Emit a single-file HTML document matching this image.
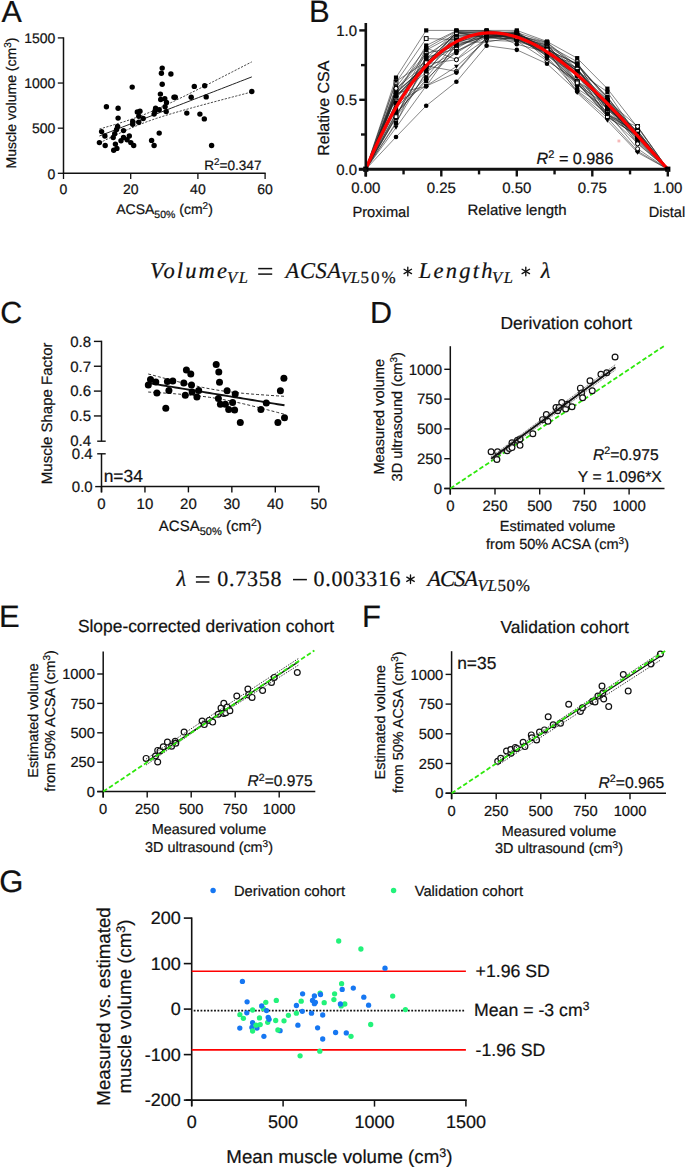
<!DOCTYPE html>
<html><head><meta charset="utf-8"><title>Figure</title>
<style>
html,body{margin:0;padding:0;background:#fff;width:685px;height:1168px;overflow:hidden}
svg{display:block}
text{text-rendering:geometricPrecision;stroke:#161616;stroke-width:0.22px;paint-order:stroke}
</style></head><body>
<svg width="685" height="1168" viewBox="0 0 685 1168">
<rect width="685" height="1168" fill="#fff"/>
<text x="1.4" y="21.9" text-anchor="start" style="font-family:'Liberation Sans', sans-serif;font-size:30.5px;" fill="#111" >A</text>
<line x1="63.5" y1="37.31" x2="63.5" y2="173.9" stroke="#111" stroke-width="1.5" />
<line x1="62.9" y1="173.3" x2="265.7" y2="173.3" stroke="#111" stroke-width="1.5" />
<line x1="57.8" y1="173.3" x2="63.5" y2="173.3" stroke="#111" stroke-width="1.3" />
<text x="55.3" y="178.5" text-anchor="end" style="font-family:'Liberation Sans', sans-serif;font-size:14px;" fill="#111" >0</text>
<line x1="57.8" y1="128.17" x2="63.5" y2="128.17" stroke="#111" stroke-width="1.3" />
<text x="55.3" y="133.37" text-anchor="end" style="font-family:'Liberation Sans', sans-serif;font-size:14px;" fill="#111" >500</text>
<line x1="57.8" y1="83.04" x2="63.5" y2="83.04" stroke="#111" stroke-width="1.3" />
<text x="55.3" y="88.24" text-anchor="end" style="font-family:'Liberation Sans', sans-serif;font-size:14px;" fill="#111" >1000</text>
<line x1="57.8" y1="37.91" x2="63.5" y2="37.91" stroke="#111" stroke-width="1.3" />
<text x="55.3" y="43.11" text-anchor="end" style="font-family:'Liberation Sans', sans-serif;font-size:14px;" fill="#111" >1500</text>
<line x1="63.5" y1="173.3" x2="63.5" y2="179" stroke="#111" stroke-width="1.3" />
<text x="63.5" y="194.3" text-anchor="middle" style="font-family:'Liberation Sans', sans-serif;font-size:14px;" fill="#111" >0</text>
<line x1="130.7" y1="173.3" x2="130.7" y2="179" stroke="#111" stroke-width="1.3" />
<text x="130.7" y="194.3" text-anchor="middle" style="font-family:'Liberation Sans', sans-serif;font-size:14px;" fill="#111" >20</text>
<line x1="197.9" y1="173.3" x2="197.9" y2="179" stroke="#111" stroke-width="1.3" />
<text x="197.9" y="194.3" text-anchor="middle" style="font-family:'Liberation Sans', sans-serif;font-size:14px;" fill="#111" >40</text>
<line x1="265.1" y1="173.3" x2="265.1" y2="179" stroke="#111" stroke-width="1.3" />
<text x="265.1" y="194.3" text-anchor="middle" style="font-family:'Liberation Sans', sans-serif;font-size:14px;" fill="#111" >60</text>
<text x="164.5" y="213.6" text-anchor="middle" style="font-family:'Liberation Sans', sans-serif;font-size:14px;" fill="#111" >ACSA<tspan baseline-shift="-3.5" font-size="10.5px">50%</tspan> (cm<tspan baseline-shift="5" font-size="10px">2</tspan>)</text>
<text transform="translate(16.4,103) rotate(-90)" text-anchor="middle" style="font-family:'Liberation Sans', sans-serif;font-size:14px;" fill="#111" >Muscle volume (cm<tspan baseline-shift="5" font-size="10px">3</tspan>)</text>
<text x="261.5" y="169.6" text-anchor="end" style="font-family:'Liberation Sans', sans-serif;font-size:13.6px;" fill="#111" >R<tspan baseline-shift="5.2" font-size="9.8px">2</tspan>=0.347</text>
<polyline points="99.4,136 103.21,134.52 107.02,133.04 110.83,131.57 114.64,130.09 118.45,128.61 122.26,127.14 126.07,125.66 129.88,124.18 133.69,122.7 137.5,121.23 141.31,119.75 145.12,118.27 148.93,116.79 152.74,115.31 156.55,113.84 160.36,112.36 164.17,110.88 167.98,109.41 171.79,107.93 175.6,106.45 179.41,104.97 183.22,103.5 187.03,102.02 190.84,100.54 194.65,99.06 198.46,97.59 202.27,96.11 206.08,94.63 209.89,93.15 213.7,91.68 217.51,90.2 221.32,88.72 225.13,87.24 228.94,85.77 232.75,84.29 236.56,82.81 240.37,81.33 244.18,79.86 247.99,78.38 251.8,76.9" fill="none" stroke="#222" stroke-width="1.0" />
<polyline points="99.4,129 103.21,127.92 107.02,126.83 110.83,125.72 114.64,124.59 118.45,123.44 122.26,122.25 126.07,121.03 129.88,119.76 133.69,118.44 137.5,117.07 141.31,115.64 145.12,114.15 148.93,112.6 152.74,110.98 156.55,109.32 160.36,107.61 164.17,105.86 167.98,104.08 171.79,102.27 175.6,100.43 179.41,98.58 183.22,96.71 187.03,94.82 190.84,92.92 194.65,91.02 198.46,89.1 202.27,87.18 206.08,85.25 209.89,83.32 213.7,81.38 217.51,79.44 221.32,77.5 225.13,75.55 228.94,73.6 232.75,71.65 236.56,69.69 240.37,67.74 244.18,65.78 247.99,63.82 251.8,61.86" fill="none" stroke="#333" stroke-width="0.9" stroke-dasharray="2.2,1.4"/>
<polyline points="99.4,143 103.21,141.12 107.02,139.26 110.83,137.41 114.64,135.59 118.45,133.79 122.26,132.02 126.07,130.29 129.88,128.6 133.69,126.96 137.5,125.38 141.31,123.85 145.12,122.39 148.93,120.99 152.74,119.65 156.55,118.35 160.36,117.11 164.17,115.9 167.98,114.73 171.79,113.59 175.6,112.47 179.41,111.37 183.22,110.28 187.03,109.21 190.84,108.16 194.65,107.11 198.46,106.07 202.27,105.03 206.08,104.01 209.89,102.98 213.7,101.97 217.51,100.95 221.32,99.94 225.13,98.93 228.94,97.93 232.75,96.93 236.56,95.93 240.37,94.93 244.18,93.93 247.99,92.94 251.8,91.94" fill="none" stroke="#333" stroke-width="0.9" stroke-dasharray="2.2,1.4"/>
<circle cx="162.2" cy="68.1" r="2.7" fill="#000" stroke="none" stroke-width="0"/>
<circle cx="161.4" cy="73.2" r="2.7" fill="#000" stroke="none" stroke-width="0"/>
<circle cx="170.9" cy="74" r="2.7" fill="#000" stroke="none" stroke-width="0"/>
<circle cx="162.2" cy="84.2" r="2.7" fill="#000" stroke="none" stroke-width="0"/>
<circle cx="132.2" cy="87.1" r="2.7" fill="#000" stroke="none" stroke-width="0"/>
<circle cx="194.3" cy="86.4" r="2.7" fill="#000" stroke="none" stroke-width="0"/>
<circle cx="204.7" cy="85.7" r="2.7" fill="#000" stroke="none" stroke-width="0"/>
<circle cx="160.4" cy="94.1" r="2.7" fill="#000" stroke="none" stroke-width="0"/>
<circle cx="174" cy="97.3" r="2.7" fill="#000" stroke="none" stroke-width="0"/>
<circle cx="175.3" cy="97.3" r="2.7" fill="#000" stroke="none" stroke-width="0"/>
<circle cx="191.2" cy="97.3" r="2.7" fill="#000" stroke="none" stroke-width="0"/>
<circle cx="206.2" cy="96.9" r="2.7" fill="#000" stroke="none" stroke-width="0"/>
<circle cx="251.8" cy="91.5" r="2.7" fill="#000" stroke="none" stroke-width="0"/>
<circle cx="160.7" cy="99.5" r="2.7" fill="#000" stroke="none" stroke-width="0"/>
<circle cx="164.8" cy="98.8" r="2.7" fill="#000" stroke="none" stroke-width="0"/>
<circle cx="166.5" cy="102.4" r="2.7" fill="#000" stroke="none" stroke-width="0"/>
<circle cx="165.1" cy="106.8" r="2.7" fill="#000" stroke="none" stroke-width="0"/>
<circle cx="106.4" cy="106.8" r="2.7" fill="#000" stroke="none" stroke-width="0"/>
<circle cx="118.1" cy="108.3" r="2.7" fill="#000" stroke="none" stroke-width="0"/>
<circle cx="155.6" cy="108.3" r="2.7" fill="#000" stroke="none" stroke-width="0"/>
<circle cx="159.2" cy="109.7" r="2.7" fill="#000" stroke="none" stroke-width="0"/>
<circle cx="137.3" cy="111.9" r="2.7" fill="#000" stroke="none" stroke-width="0"/>
<circle cx="140" cy="111.2" r="2.7" fill="#000" stroke="none" stroke-width="0"/>
<circle cx="154.9" cy="111.2" r="2.7" fill="#000" stroke="none" stroke-width="0"/>
<circle cx="166.2" cy="111.6" r="2.7" fill="#000" stroke="none" stroke-width="0"/>
<circle cx="186.8" cy="113.1" r="2.7" fill="#000" stroke="none" stroke-width="0"/>
<circle cx="154.1" cy="114.1" r="2.7" fill="#000" stroke="none" stroke-width="0"/>
<circle cx="199.9" cy="114.1" r="2.7" fill="#000" stroke="none" stroke-width="0"/>
<circle cx="204.3" cy="118.9" r="2.7" fill="#000" stroke="none" stroke-width="0"/>
<circle cx="118.1" cy="118.1" r="2.7" fill="#000" stroke="none" stroke-width="0"/>
<circle cx="138.8" cy="116.3" r="2.7" fill="#000" stroke="none" stroke-width="0"/>
<circle cx="143.2" cy="118.5" r="2.7" fill="#000" stroke="none" stroke-width="0"/>
<circle cx="132.7" cy="121.4" r="2.7" fill="#000" stroke="none" stroke-width="0"/>
<circle cx="132.7" cy="124.3" r="2.7" fill="#000" stroke="none" stroke-width="0"/>
<circle cx="138.8" cy="122.2" r="2.7" fill="#000" stroke="none" stroke-width="0"/>
<circle cx="117.6" cy="126.5" r="2.7" fill="#000" stroke="none" stroke-width="0"/>
<circle cx="101.6" cy="131.6" r="2.7" fill="#000" stroke="none" stroke-width="0"/>
<circle cx="116.6" cy="129.5" r="2.7" fill="#000" stroke="none" stroke-width="0"/>
<circle cx="123.5" cy="130.6" r="2.7" fill="#000" stroke="none" stroke-width="0"/>
<circle cx="159.2" cy="133.1" r="2.7" fill="#000" stroke="none" stroke-width="0"/>
<circle cx="104.9" cy="136" r="2.7" fill="#000" stroke="none" stroke-width="0"/>
<circle cx="114.7" cy="133.8" r="2.7" fill="#000" stroke="none" stroke-width="0"/>
<circle cx="113.2" cy="137.5" r="2.7" fill="#000" stroke="none" stroke-width="0"/>
<circle cx="129.3" cy="136" r="2.7" fill="#000" stroke="none" stroke-width="0"/>
<circle cx="123.5" cy="137.5" r="2.7" fill="#000" stroke="none" stroke-width="0"/>
<circle cx="121" cy="140.8" r="2.7" fill="#000" stroke="none" stroke-width="0"/>
<circle cx="127.1" cy="139.7" r="2.7" fill="#000" stroke="none" stroke-width="0"/>
<circle cx="151.6" cy="140.4" r="2.7" fill="#000" stroke="none" stroke-width="0"/>
<circle cx="99.4" cy="142.6" r="2.7" fill="#000" stroke="none" stroke-width="0"/>
<circle cx="105.2" cy="145.5" r="2.7" fill="#000" stroke="none" stroke-width="0"/>
<circle cx="115.4" cy="144.1" r="2.7" fill="#000" stroke="none" stroke-width="0"/>
<circle cx="130.8" cy="142.6" r="2.7" fill="#000" stroke="none" stroke-width="0"/>
<circle cx="133.7" cy="145.5" r="2.7" fill="#000" stroke="none" stroke-width="0"/>
<circle cx="154.1" cy="145.5" r="2.7" fill="#000" stroke="none" stroke-width="0"/>
<circle cx="116.9" cy="148.4" r="2.7" fill="#000" stroke="none" stroke-width="0"/>
<circle cx="113.7" cy="150.2" r="2.7" fill="#000" stroke="none" stroke-width="0"/>
<circle cx="211.6" cy="145.5" r="2.7" fill="#000" stroke="none" stroke-width="0"/>
<text x="309.1" y="22.2" text-anchor="start" style="font-family:'Liberation Sans', sans-serif;font-size:31px;" fill="#111" >B</text>
<polyline points="365.8,169.2 396,137 426.2,105.77 456.4,81.76 486.6,45.67 516.8,49.83 547,63.71 577.2,91.47 607.4,117.84 637.6,151.16 667.8,169.2" fill="none" stroke="#222" stroke-width="0.55" />
<polyline points="365.8,169.2 396,77.59 426.2,30.4 456.4,30.4 486.6,30.4 516.8,30.4 547,41.5 577.2,58.16 607.4,88.7 637.6,127.56 667.8,169.2" fill="none" stroke="#222" stroke-width="0.55" />
<polyline points="365.8,169.2 396,127.56 426.2,85.92 456.4,66.49 486.6,40.12 516.8,41.5 547,49.83 577.2,92.86 607.4,120.62 637.6,152.54 667.8,169.2" fill="none" stroke="#222" stroke-width="0.55" />
<polyline points="365.8,169.2 396,96.27 426.2,64.27 456.4,46.04 486.6,35.46 516.8,38.22 547,46.6 577.2,81.62 607.4,104.2 637.6,134.17 667.8,169.2" fill="none" stroke="#222" stroke-width="0.55" />
<polyline points="365.8,169.2 396,115.26 426.2,65.77 456.4,71.4 486.6,37.14 516.8,40.94 547,60.64 577.2,80.88 607.4,112.79 637.6,148.73 667.8,169.2" fill="none" stroke="#222" stroke-width="0.55" />
<polyline points="365.8,169.2 396,87.24 426.2,48.21 456.4,31.19 486.6,34.07 516.8,31.47 547,51.04 577.2,73.53 607.4,108.19 637.6,136.93 667.8,169.2" fill="none" stroke="#222" stroke-width="0.55" />
<polyline points="365.8,169.2 396,93.19 426.2,86.37 456.4,43.11 486.6,31.99 516.8,44.28 547,51.94 577.2,83.68 607.4,114.08 637.6,133.31 667.8,169.2" fill="none" stroke="#222" stroke-width="0.55" />
<polyline points="365.8,169.2 396,90.17 426.2,53.14 456.4,46.71 486.6,35.37 516.8,34.98 547,43.7 577.2,81.31 607.4,100.68 637.6,126.45 667.8,169.2" fill="none" stroke="#222" stroke-width="0.55" />
<polyline points="365.8,169.2 396,96.97 426.2,72.16 456.4,52.89 486.6,34.76 516.8,37.78 547,55.9 577.2,75.31 607.4,115.32 637.6,143.05 667.8,169.2" fill="none" stroke="#222" stroke-width="0.55" />
<polyline points="365.8,169.2 396,92.11 426.2,65.69 456.4,36.89 486.6,33.76 516.8,33.43 547,48.23 577.2,71.17 607.4,91.92 637.6,136.33 667.8,169.2" fill="none" stroke="#222" stroke-width="0.55" />
<polyline points="365.8,169.2 396,103.89 426.2,62.68 456.4,32.68 486.6,36.72 516.8,36.2 547,45.7 577.2,65.02 607.4,97.49 637.6,132.63 667.8,169.2" fill="none" stroke="#222" stroke-width="0.55" />
<polyline points="365.8,169.2 396,92.96 426.2,65.45 456.4,32.62 486.6,32.3 516.8,34.47 547,50.01 577.2,71.87 607.4,117.39 637.6,135.37 667.8,169.2" fill="none" stroke="#222" stroke-width="0.55" />
<polyline points="365.8,169.2 396,105.16 426.2,57.33 456.4,48.67 486.6,30.79 516.8,34.24 547,45 577.2,61.73 607.4,115.39 637.6,126.51 667.8,169.2" fill="none" stroke="#222" stroke-width="0.55" />
<polyline points="365.8,169.2 396,108.11 426.2,77.43 456.4,41.64 486.6,36.52 516.8,39.78 547,53.48 577.2,83.1 607.4,112.73 637.6,134.44 667.8,169.2" fill="none" stroke="#222" stroke-width="0.55" />
<polyline points="365.8,169.2 396,95.47 426.2,68.47 456.4,35.19 486.6,34.18 516.8,38.18 547,44.89 577.2,75.75 607.4,105.75 637.6,138.39 667.8,169.2" fill="none" stroke="#222" stroke-width="0.55" />
<polyline points="365.8,169.2 396,82.37 426.2,38.54 456.4,39.62 486.6,32.47 516.8,35.37 547,42.45 577.2,68.99 607.4,110.06 637.6,131.03 667.8,169.2" fill="none" stroke="#222" stroke-width="0.55" />
<polyline points="365.8,169.2 396,103.33 426.2,67.13 456.4,32.14 486.6,36.93 516.8,33.96 547,47.31 577.2,68.92 607.4,109.08 637.6,141.71 667.8,169.2" fill="none" stroke="#222" stroke-width="0.55" />
<polyline points="365.8,169.2 396,91.38 426.2,55.2 456.4,35.41 486.6,36.55 516.8,34.37 547,55.71 577.2,63.56 607.4,98.23 637.6,134.47 667.8,169.2" fill="none" stroke="#222" stroke-width="0.55" />
<polyline points="365.8,169.2 396,93.24 426.2,65.18 456.4,41.73 486.6,34.37 516.8,33.07 547,59.67 577.2,82.95 607.4,116.31 637.6,130.75 667.8,169.2" fill="none" stroke="#222" stroke-width="0.55" />
<polyline points="365.8,169.2 396,113.54 426.2,79.36 456.4,51.14 486.6,37.28 516.8,38.98 547,48.36 577.2,82.47 607.4,108.13 637.6,136.07 667.8,169.2" fill="none" stroke="#222" stroke-width="0.55" />
<polyline points="365.8,169.2 396,117.27 426.2,73.68 456.4,32.82 486.6,37.75 516.8,38.76 547,47.87 577.2,71.06 607.4,106.01 637.6,132.77 667.8,169.2" fill="none" stroke="#222" stroke-width="0.55" />
<polyline points="365.8,169.2 396,113.05 426.2,81.07 456.4,45.63 486.6,33.6 516.8,38.72 547,54.22 577.2,85 607.4,104.92 637.6,140.63 667.8,169.2" fill="none" stroke="#222" stroke-width="0.55" />
<polyline points="365.8,169.2 396,123.81 426.2,59.08 456.4,44.08 486.6,37.18 516.8,32.48 547,51.32 577.2,88.66 607.4,108.26 637.6,132.89 667.8,169.2" fill="none" stroke="#222" stroke-width="0.55" />
<polyline points="365.8,169.2 396,97.94 426.2,62.2 456.4,38.62 486.6,32.55 516.8,32.84 547,50.36 577.2,75 607.4,102.23 637.6,131.45 667.8,169.2" fill="none" stroke="#222" stroke-width="0.55" />
<polyline points="365.8,169.2 396,109.77 426.2,48 456.4,59.57 486.6,31.71 516.8,40.2 547,49.62 577.2,64.07 607.4,107.23 637.6,134.32 667.8,169.2" fill="none" stroke="#222" stroke-width="0.55" />
<polyline points="365.8,169.2 396,103.34 426.2,58.55 456.4,31.23 486.6,30.6 516.8,36.9 547,49.66 577.2,63.75 607.4,100.04 637.6,136.08 667.8,169.2" fill="none" stroke="#222" stroke-width="0.55" />
<polyline points="365.8,169.2 396,81.37 426.2,61.56 456.4,41.93 486.6,42.22 516.8,36.47 547,52.58 577.2,68.75 607.4,106.79 637.6,139.5 667.8,169.2" fill="none" stroke="#222" stroke-width="0.55" />
<polyline points="365.8,169.2 396,117.92 426.2,50.09 456.4,33.96 486.6,33.08 516.8,39.39 547,52.42 577.2,70.21 607.4,101.45 637.6,135.49 667.8,169.2" fill="none" stroke="#222" stroke-width="0.55" />
<polyline points="365.8,169.2 396,88.42 426.2,63.88 456.4,59.78 486.6,38.85 516.8,33.11 547,50.87 577.2,68.59 607.4,105.27 637.6,143.83 667.8,169.2" fill="none" stroke="#222" stroke-width="0.55" />
<polyline points="365.8,169.2 396,122.63 426.2,71.5 456.4,39.56 486.6,33.84 516.8,35.74 547,48.53 577.2,71.19 607.4,100.15 637.6,133.7 667.8,169.2" fill="none" stroke="#222" stroke-width="0.55" />
<polyline points="365.8,169.2 396,96.6 426.2,68.4 456.4,51.24 486.6,35.04 516.8,37.07 547,53.19 577.2,76.23 607.4,106.68 637.6,136.24 667.8,169.2" fill="none" stroke="#222" stroke-width="0.55" />
<polyline points="365.8,169.2 396,116.67 426.2,62.68 456.4,32.49 486.6,31.4 516.8,37.15 547,50.07 577.2,82.88 607.4,116.55 637.6,136.02 667.8,169.2" fill="none" stroke="#222" stroke-width="0.55" />
<polyline points="365.8,169.2 396,102.73 426.2,86.08 456.4,72.59 486.6,37.83 516.8,33.41 547,56.65 577.2,90.47 607.4,114.02 637.6,137.09 667.8,169.2" fill="none" stroke="#222" stroke-width="0.55" />
<polyline points="365.8,169.2 396,95.55 426.2,45.53 456.4,30.66 486.6,31.12 516.8,32.53 547,42.45 577.2,65.64 607.4,96.78 637.6,138.82 667.8,169.2" fill="none" stroke="#222" stroke-width="0.55" />
<circle cx="396" cy="137" r="2.3" fill="#000" stroke="none" stroke-width="0"/>
<circle cx="426.2" cy="105.77" r="2.3" fill="#000" stroke="none" stroke-width="0"/>
<circle cx="456.4" cy="81.76" r="2.3" fill="#000" stroke="none" stroke-width="0"/>
<circle cx="486.6" cy="45.67" r="2.3" fill="#000" stroke="none" stroke-width="0"/>
<circle cx="516.8" cy="49.83" r="2.3" fill="#000" stroke="none" stroke-width="0"/>
<circle cx="547" cy="63.71" r="2.3" fill="#000" stroke="none" stroke-width="0"/>
<circle cx="577.2" cy="91.47" r="2.3" fill="#000" stroke="none" stroke-width="0"/>
<circle cx="607.4" cy="117.84" r="2.3" fill="#000" stroke="none" stroke-width="0"/>
<circle cx="637.6" cy="151.16" r="2.3" fill="#000" stroke="none" stroke-width="0"/>
<rect x="393.9" y="75.49" width="4.2" height="4.2" fill="#000"/>
<rect x="424.1" y="28.3" width="4.2" height="4.2" fill="#000"/>
<rect x="454.3" y="28.3" width="4.2" height="4.2" fill="#000"/>
<rect x="484.5" y="28.3" width="4.2" height="4.2" fill="#000"/>
<rect x="514.7" y="28.3" width="4.2" height="4.2" fill="#000"/>
<rect x="544.9" y="39.4" width="4.2" height="4.2" fill="#000"/>
<rect x="575.1" y="56.06" width="4.2" height="4.2" fill="#000"/>
<rect x="605.3" y="86.6" width="4.2" height="4.2" fill="#000"/>
<rect x="635.5" y="125.46" width="4.2" height="4.2" fill="#000"/>
<path d="M393.6,125.76h4.8l-2.4,4z" fill="#000"/>
<path d="M423.8,84.12h4.8l-2.4,4z" fill="#000"/>
<path d="M454,64.69h4.8l-2.4,4z" fill="#000"/>
<path d="M484.2,38.32h4.8l-2.4,4z" fill="#000"/>
<path d="M514.4,39.7h4.8l-2.4,4z" fill="#000"/>
<path d="M544.6,48.03h4.8l-2.4,4z" fill="#000"/>
<path d="M574.8,91.06h4.8l-2.4,4z" fill="#000"/>
<path d="M605,118.82h4.8l-2.4,4z" fill="#000"/>
<path d="M635.2,150.74h4.8l-2.4,4z" fill="#000"/>
<circle cx="396" cy="96.27" r="2.3" fill="#000" stroke="none" stroke-width="0"/>
<circle cx="426.2" cy="64.27" r="2.3" fill="#000" stroke="none" stroke-width="0"/>
<circle cx="456.4" cy="46.04" r="2.3" fill="#000" stroke="none" stroke-width="0"/>
<circle cx="486.6" cy="35.46" r="2.3" fill="#000" stroke="none" stroke-width="0"/>
<circle cx="516.8" cy="38.22" r="2.3" fill="#000" stroke="none" stroke-width="0"/>
<circle cx="547" cy="46.6" r="2.3" fill="#000" stroke="none" stroke-width="0"/>
<circle cx="577.2" cy="81.62" r="2.3" fill="#000" stroke="none" stroke-width="0"/>
<circle cx="607.4" cy="104.2" r="2.3" fill="#000" stroke="none" stroke-width="0"/>
<circle cx="637.6" cy="134.17" r="2.3" fill="#000" stroke="none" stroke-width="0"/>
<circle cx="396" cy="115.26" r="2" fill="#fff" stroke="#000" stroke-width="1.0"/>
<circle cx="426.2" cy="65.77" r="2" fill="#fff" stroke="#000" stroke-width="1.0"/>
<circle cx="456.4" cy="71.4" r="2" fill="#fff" stroke="#000" stroke-width="1.0"/>
<circle cx="486.6" cy="37.14" r="2" fill="#fff" stroke="#000" stroke-width="1.0"/>
<circle cx="516.8" cy="40.94" r="2" fill="#fff" stroke="#000" stroke-width="1.0"/>
<circle cx="547" cy="60.64" r="2" fill="#fff" stroke="#000" stroke-width="1.0"/>
<circle cx="577.2" cy="80.88" r="2" fill="#fff" stroke="#000" stroke-width="1.0"/>
<circle cx="607.4" cy="112.79" r="2" fill="#fff" stroke="#000" stroke-width="1.0"/>
<circle cx="637.6" cy="148.73" r="2" fill="#fff" stroke="#000" stroke-width="1.0"/>
<rect x="393.9" y="85.14" width="4.2" height="4.2" fill="#000"/>
<rect x="424.1" y="46.11" width="4.2" height="4.2" fill="#000"/>
<rect x="454.3" y="29.09" width="4.2" height="4.2" fill="#000"/>
<rect x="484.5" y="31.97" width="4.2" height="4.2" fill="#000"/>
<rect x="514.7" y="29.37" width="4.2" height="4.2" fill="#000"/>
<rect x="544.9" y="48.94" width="4.2" height="4.2" fill="#000"/>
<rect x="575.1" y="71.43" width="4.2" height="4.2" fill="#000"/>
<rect x="605.3" y="106.09" width="4.2" height="4.2" fill="#000"/>
<rect x="635.5" y="134.83" width="4.2" height="4.2" fill="#000"/>
<circle cx="396" cy="93.19" r="2.3" fill="#000" stroke="none" stroke-width="0"/>
<circle cx="426.2" cy="86.37" r="2.3" fill="#000" stroke="none" stroke-width="0"/>
<circle cx="456.4" cy="43.11" r="2.3" fill="#000" stroke="none" stroke-width="0"/>
<circle cx="486.6" cy="31.99" r="2.3" fill="#000" stroke="none" stroke-width="0"/>
<circle cx="516.8" cy="44.28" r="2.3" fill="#000" stroke="none" stroke-width="0"/>
<circle cx="547" cy="51.94" r="2.3" fill="#000" stroke="none" stroke-width="0"/>
<circle cx="577.2" cy="83.68" r="2.3" fill="#000" stroke="none" stroke-width="0"/>
<circle cx="607.4" cy="114.08" r="2.3" fill="#000" stroke="none" stroke-width="0"/>
<circle cx="637.6" cy="133.31" r="2.3" fill="#000" stroke="none" stroke-width="0"/>
<rect x="394.1" y="88.27" width="3.8" height="3.8" fill="#fff" stroke="#000" stroke-width="1"/>
<rect x="424.3" y="51.24" width="3.8" height="3.8" fill="#fff" stroke="#000" stroke-width="1"/>
<rect x="454.5" y="44.81" width="3.8" height="3.8" fill="#fff" stroke="#000" stroke-width="1"/>
<rect x="484.7" y="33.47" width="3.8" height="3.8" fill="#fff" stroke="#000" stroke-width="1"/>
<rect x="514.9" y="33.08" width="3.8" height="3.8" fill="#fff" stroke="#000" stroke-width="1"/>
<rect x="545.1" y="41.8" width="3.8" height="3.8" fill="#fff" stroke="#000" stroke-width="1"/>
<rect x="575.3" y="79.41" width="3.8" height="3.8" fill="#fff" stroke="#000" stroke-width="1"/>
<rect x="605.5" y="98.78" width="3.8" height="3.8" fill="#fff" stroke="#000" stroke-width="1"/>
<rect x="635.7" y="124.55" width="3.8" height="3.8" fill="#fff" stroke="#000" stroke-width="1"/>
<circle cx="396" cy="96.97" r="2.3" fill="#000" stroke="none" stroke-width="0"/>
<circle cx="426.2" cy="72.16" r="2.3" fill="#000" stroke="none" stroke-width="0"/>
<circle cx="456.4" cy="52.89" r="2.3" fill="#000" stroke="none" stroke-width="0"/>
<circle cx="486.6" cy="34.76" r="2.3" fill="#000" stroke="none" stroke-width="0"/>
<circle cx="516.8" cy="37.78" r="2.3" fill="#000" stroke="none" stroke-width="0"/>
<circle cx="547" cy="55.9" r="2.3" fill="#000" stroke="none" stroke-width="0"/>
<circle cx="577.2" cy="75.31" r="2.3" fill="#000" stroke="none" stroke-width="0"/>
<circle cx="607.4" cy="115.32" r="2.3" fill="#000" stroke="none" stroke-width="0"/>
<circle cx="637.6" cy="143.05" r="2.3" fill="#000" stroke="none" stroke-width="0"/>
<rect x="393.9" y="90.01" width="4.2" height="4.2" fill="#000"/>
<rect x="424.1" y="63.59" width="4.2" height="4.2" fill="#000"/>
<rect x="454.3" y="34.79" width="4.2" height="4.2" fill="#000"/>
<rect x="484.5" y="31.66" width="4.2" height="4.2" fill="#000"/>
<rect x="514.7" y="31.33" width="4.2" height="4.2" fill="#000"/>
<rect x="544.9" y="46.13" width="4.2" height="4.2" fill="#000"/>
<rect x="575.1" y="69.07" width="4.2" height="4.2" fill="#000"/>
<rect x="605.3" y="89.82" width="4.2" height="4.2" fill="#000"/>
<rect x="635.5" y="134.23" width="4.2" height="4.2" fill="#000"/>
<path d="M393.6,102.09h4.8l-2.4,4z" fill="#000"/>
<path d="M423.8,60.88h4.8l-2.4,4z" fill="#000"/>
<path d="M454,30.88h4.8l-2.4,4z" fill="#000"/>
<path d="M484.2,34.92h4.8l-2.4,4z" fill="#000"/>
<path d="M514.4,34.4h4.8l-2.4,4z" fill="#000"/>
<path d="M544.6,43.9h4.8l-2.4,4z" fill="#000"/>
<path d="M574.8,63.22h4.8l-2.4,4z" fill="#000"/>
<path d="M605,95.69h4.8l-2.4,4z" fill="#000"/>
<path d="M635.2,130.83h4.8l-2.4,4z" fill="#000"/>
<circle cx="396" cy="92.96" r="2.3" fill="#000" stroke="none" stroke-width="0"/>
<circle cx="426.2" cy="65.45" r="2.3" fill="#000" stroke="none" stroke-width="0"/>
<circle cx="456.4" cy="32.62" r="2.3" fill="#000" stroke="none" stroke-width="0"/>
<circle cx="486.6" cy="32.3" r="2.3" fill="#000" stroke="none" stroke-width="0"/>
<circle cx="516.8" cy="34.47" r="2.3" fill="#000" stroke="none" stroke-width="0"/>
<circle cx="547" cy="50.01" r="2.3" fill="#000" stroke="none" stroke-width="0"/>
<circle cx="577.2" cy="71.87" r="2.3" fill="#000" stroke="none" stroke-width="0"/>
<circle cx="607.4" cy="117.39" r="2.3" fill="#000" stroke="none" stroke-width="0"/>
<circle cx="637.6" cy="135.37" r="2.3" fill="#000" stroke="none" stroke-width="0"/>
<circle cx="396" cy="105.16" r="2" fill="#fff" stroke="#000" stroke-width="1.0"/>
<circle cx="426.2" cy="57.33" r="2" fill="#fff" stroke="#000" stroke-width="1.0"/>
<circle cx="456.4" cy="48.67" r="2" fill="#fff" stroke="#000" stroke-width="1.0"/>
<circle cx="486.6" cy="30.79" r="2" fill="#fff" stroke="#000" stroke-width="1.0"/>
<circle cx="516.8" cy="34.24" r="2" fill="#fff" stroke="#000" stroke-width="1.0"/>
<circle cx="547" cy="45" r="2" fill="#fff" stroke="#000" stroke-width="1.0"/>
<circle cx="577.2" cy="61.73" r="2" fill="#fff" stroke="#000" stroke-width="1.0"/>
<circle cx="607.4" cy="115.39" r="2" fill="#fff" stroke="#000" stroke-width="1.0"/>
<circle cx="637.6" cy="126.51" r="2" fill="#fff" stroke="#000" stroke-width="1.0"/>
<rect x="393.9" y="106.01" width="4.2" height="4.2" fill="#000"/>
<rect x="424.1" y="75.33" width="4.2" height="4.2" fill="#000"/>
<rect x="454.3" y="39.54" width="4.2" height="4.2" fill="#000"/>
<rect x="484.5" y="34.42" width="4.2" height="4.2" fill="#000"/>
<rect x="514.7" y="37.68" width="4.2" height="4.2" fill="#000"/>
<rect x="544.9" y="51.38" width="4.2" height="4.2" fill="#000"/>
<rect x="575.1" y="81" width="4.2" height="4.2" fill="#000"/>
<rect x="605.3" y="110.63" width="4.2" height="4.2" fill="#000"/>
<rect x="635.5" y="132.34" width="4.2" height="4.2" fill="#000"/>
<circle cx="396" cy="95.47" r="2.3" fill="#000" stroke="none" stroke-width="0"/>
<circle cx="426.2" cy="68.47" r="2.3" fill="#000" stroke="none" stroke-width="0"/>
<circle cx="456.4" cy="35.19" r="2.3" fill="#000" stroke="none" stroke-width="0"/>
<circle cx="486.6" cy="34.18" r="2.3" fill="#000" stroke="none" stroke-width="0"/>
<circle cx="516.8" cy="38.18" r="2.3" fill="#000" stroke="none" stroke-width="0"/>
<circle cx="547" cy="44.89" r="2.3" fill="#000" stroke="none" stroke-width="0"/>
<circle cx="577.2" cy="75.75" r="2.3" fill="#000" stroke="none" stroke-width="0"/>
<circle cx="607.4" cy="105.75" r="2.3" fill="#000" stroke="none" stroke-width="0"/>
<circle cx="637.6" cy="138.39" r="2.3" fill="#000" stroke="none" stroke-width="0"/>
<rect x="394.1" y="80.47" width="3.8" height="3.8" fill="#fff" stroke="#000" stroke-width="1"/>
<rect x="424.3" y="36.64" width="3.8" height="3.8" fill="#fff" stroke="#000" stroke-width="1"/>
<rect x="454.5" y="37.72" width="3.8" height="3.8" fill="#fff" stroke="#000" stroke-width="1"/>
<rect x="484.7" y="30.57" width="3.8" height="3.8" fill="#fff" stroke="#000" stroke-width="1"/>
<rect x="514.9" y="33.47" width="3.8" height="3.8" fill="#fff" stroke="#000" stroke-width="1"/>
<rect x="545.1" y="40.55" width="3.8" height="3.8" fill="#fff" stroke="#000" stroke-width="1"/>
<rect x="575.3" y="67.09" width="3.8" height="3.8" fill="#fff" stroke="#000" stroke-width="1"/>
<rect x="605.5" y="108.16" width="3.8" height="3.8" fill="#fff" stroke="#000" stroke-width="1"/>
<rect x="635.7" y="129.13" width="3.8" height="3.8" fill="#fff" stroke="#000" stroke-width="1"/>
<circle cx="396" cy="103.33" r="2.3" fill="#000" stroke="none" stroke-width="0"/>
<circle cx="426.2" cy="67.13" r="2.3" fill="#000" stroke="none" stroke-width="0"/>
<circle cx="456.4" cy="32.14" r="2.3" fill="#000" stroke="none" stroke-width="0"/>
<circle cx="486.6" cy="36.93" r="2.3" fill="#000" stroke="none" stroke-width="0"/>
<circle cx="516.8" cy="33.96" r="2.3" fill="#000" stroke="none" stroke-width="0"/>
<circle cx="547" cy="47.31" r="2.3" fill="#000" stroke="none" stroke-width="0"/>
<circle cx="577.2" cy="68.92" r="2.3" fill="#000" stroke="none" stroke-width="0"/>
<circle cx="607.4" cy="109.08" r="2.3" fill="#000" stroke="none" stroke-width="0"/>
<circle cx="637.6" cy="141.71" r="2.3" fill="#000" stroke="none" stroke-width="0"/>
<rect x="393.9" y="89.28" width="4.2" height="4.2" fill="#000"/>
<rect x="424.1" y="53.1" width="4.2" height="4.2" fill="#000"/>
<rect x="454.3" y="33.31" width="4.2" height="4.2" fill="#000"/>
<rect x="484.5" y="34.45" width="4.2" height="4.2" fill="#000"/>
<rect x="514.7" y="32.27" width="4.2" height="4.2" fill="#000"/>
<rect x="544.9" y="53.61" width="4.2" height="4.2" fill="#000"/>
<rect x="575.1" y="61.46" width="4.2" height="4.2" fill="#000"/>
<rect x="605.3" y="96.13" width="4.2" height="4.2" fill="#000"/>
<rect x="635.5" y="132.37" width="4.2" height="4.2" fill="#000"/>
<path d="M393.6,91.44h4.8l-2.4,4z" fill="#000"/>
<path d="M423.8,63.38h4.8l-2.4,4z" fill="#000"/>
<path d="M454,39.93h4.8l-2.4,4z" fill="#000"/>
<path d="M484.2,32.57h4.8l-2.4,4z" fill="#000"/>
<path d="M514.4,31.27h4.8l-2.4,4z" fill="#000"/>
<path d="M544.6,57.87h4.8l-2.4,4z" fill="#000"/>
<path d="M574.8,81.15h4.8l-2.4,4z" fill="#000"/>
<path d="M605,114.51h4.8l-2.4,4z" fill="#000"/>
<path d="M635.2,128.95h4.8l-2.4,4z" fill="#000"/>
<circle cx="396" cy="113.54" r="2.3" fill="#000" stroke="none" stroke-width="0"/>
<circle cx="426.2" cy="79.36" r="2.3" fill="#000" stroke="none" stroke-width="0"/>
<circle cx="456.4" cy="51.14" r="2.3" fill="#000" stroke="none" stroke-width="0"/>
<circle cx="486.6" cy="37.28" r="2.3" fill="#000" stroke="none" stroke-width="0"/>
<circle cx="516.8" cy="38.98" r="2.3" fill="#000" stroke="none" stroke-width="0"/>
<circle cx="547" cy="48.36" r="2.3" fill="#000" stroke="none" stroke-width="0"/>
<circle cx="577.2" cy="82.47" r="2.3" fill="#000" stroke="none" stroke-width="0"/>
<circle cx="607.4" cy="108.13" r="2.3" fill="#000" stroke="none" stroke-width="0"/>
<circle cx="637.6" cy="136.07" r="2.3" fill="#000" stroke="none" stroke-width="0"/>
<circle cx="396" cy="117.27" r="2" fill="#fff" stroke="#000" stroke-width="1.0"/>
<circle cx="426.2" cy="73.68" r="2" fill="#fff" stroke="#000" stroke-width="1.0"/>
<circle cx="456.4" cy="32.82" r="2" fill="#fff" stroke="#000" stroke-width="1.0"/>
<circle cx="486.6" cy="37.75" r="2" fill="#fff" stroke="#000" stroke-width="1.0"/>
<circle cx="516.8" cy="38.76" r="2" fill="#fff" stroke="#000" stroke-width="1.0"/>
<circle cx="547" cy="47.87" r="2" fill="#fff" stroke="#000" stroke-width="1.0"/>
<circle cx="577.2" cy="71.06" r="2" fill="#fff" stroke="#000" stroke-width="1.0"/>
<circle cx="607.4" cy="106.01" r="2" fill="#fff" stroke="#000" stroke-width="1.0"/>
<circle cx="637.6" cy="132.77" r="2" fill="#fff" stroke="#000" stroke-width="1.0"/>
<rect x="393.9" y="110.95" width="4.2" height="4.2" fill="#000"/>
<rect x="424.1" y="78.97" width="4.2" height="4.2" fill="#000"/>
<rect x="454.3" y="43.53" width="4.2" height="4.2" fill="#000"/>
<rect x="484.5" y="31.5" width="4.2" height="4.2" fill="#000"/>
<rect x="514.7" y="36.62" width="4.2" height="4.2" fill="#000"/>
<rect x="544.9" y="52.12" width="4.2" height="4.2" fill="#000"/>
<rect x="575.1" y="82.9" width="4.2" height="4.2" fill="#000"/>
<rect x="605.3" y="102.82" width="4.2" height="4.2" fill="#000"/>
<rect x="635.5" y="138.53" width="4.2" height="4.2" fill="#000"/>
<circle cx="396" cy="123.81" r="2.3" fill="#000" stroke="none" stroke-width="0"/>
<circle cx="426.2" cy="59.08" r="2.3" fill="#000" stroke="none" stroke-width="0"/>
<circle cx="456.4" cy="44.08" r="2.3" fill="#000" stroke="none" stroke-width="0"/>
<circle cx="486.6" cy="37.18" r="2.3" fill="#000" stroke="none" stroke-width="0"/>
<circle cx="516.8" cy="32.48" r="2.3" fill="#000" stroke="none" stroke-width="0"/>
<circle cx="547" cy="51.32" r="2.3" fill="#000" stroke="none" stroke-width="0"/>
<circle cx="577.2" cy="88.66" r="2.3" fill="#000" stroke="none" stroke-width="0"/>
<circle cx="607.4" cy="108.26" r="2.3" fill="#000" stroke="none" stroke-width="0"/>
<circle cx="637.6" cy="132.89" r="2.3" fill="#000" stroke="none" stroke-width="0"/>
<rect x="394.1" y="96.04" width="3.8" height="3.8" fill="#fff" stroke="#000" stroke-width="1"/>
<rect x="424.3" y="60.3" width="3.8" height="3.8" fill="#fff" stroke="#000" stroke-width="1"/>
<rect x="454.5" y="36.72" width="3.8" height="3.8" fill="#fff" stroke="#000" stroke-width="1"/>
<rect x="484.7" y="30.65" width="3.8" height="3.8" fill="#fff" stroke="#000" stroke-width="1"/>
<rect x="514.9" y="30.94" width="3.8" height="3.8" fill="#fff" stroke="#000" stroke-width="1"/>
<rect x="545.1" y="48.46" width="3.8" height="3.8" fill="#fff" stroke="#000" stroke-width="1"/>
<rect x="575.3" y="73.1" width="3.8" height="3.8" fill="#fff" stroke="#000" stroke-width="1"/>
<rect x="605.5" y="100.33" width="3.8" height="3.8" fill="#fff" stroke="#000" stroke-width="1"/>
<rect x="635.7" y="129.55" width="3.8" height="3.8" fill="#fff" stroke="#000" stroke-width="1"/>
<circle cx="396" cy="109.77" r="2.3" fill="#000" stroke="none" stroke-width="0"/>
<circle cx="426.2" cy="48" r="2.3" fill="#000" stroke="none" stroke-width="0"/>
<circle cx="456.4" cy="59.57" r="2.3" fill="#000" stroke="none" stroke-width="0"/>
<circle cx="486.6" cy="31.71" r="2.3" fill="#000" stroke="none" stroke-width="0"/>
<circle cx="516.8" cy="40.2" r="2.3" fill="#000" stroke="none" stroke-width="0"/>
<circle cx="547" cy="49.62" r="2.3" fill="#000" stroke="none" stroke-width="0"/>
<circle cx="577.2" cy="64.07" r="2.3" fill="#000" stroke="none" stroke-width="0"/>
<circle cx="607.4" cy="107.23" r="2.3" fill="#000" stroke="none" stroke-width="0"/>
<circle cx="637.6" cy="134.32" r="2.3" fill="#000" stroke="none" stroke-width="0"/>
<rect x="393.9" y="101.24" width="4.2" height="4.2" fill="#000"/>
<rect x="424.1" y="56.45" width="4.2" height="4.2" fill="#000"/>
<rect x="454.3" y="29.13" width="4.2" height="4.2" fill="#000"/>
<rect x="484.5" y="28.5" width="4.2" height="4.2" fill="#000"/>
<rect x="514.7" y="34.8" width="4.2" height="4.2" fill="#000"/>
<rect x="544.9" y="47.56" width="4.2" height="4.2" fill="#000"/>
<rect x="575.1" y="61.65" width="4.2" height="4.2" fill="#000"/>
<rect x="605.3" y="97.94" width="4.2" height="4.2" fill="#000"/>
<rect x="635.5" y="133.98" width="4.2" height="4.2" fill="#000"/>
<path d="M393.6,79.57h4.8l-2.4,4z" fill="#000"/>
<path d="M423.8,59.76h4.8l-2.4,4z" fill="#000"/>
<path d="M454,40.13h4.8l-2.4,4z" fill="#000"/>
<path d="M484.2,40.42h4.8l-2.4,4z" fill="#000"/>
<path d="M514.4,34.67h4.8l-2.4,4z" fill="#000"/>
<path d="M544.6,50.78h4.8l-2.4,4z" fill="#000"/>
<path d="M574.8,66.95h4.8l-2.4,4z" fill="#000"/>
<path d="M605,104.99h4.8l-2.4,4z" fill="#000"/>
<path d="M635.2,137.7h4.8l-2.4,4z" fill="#000"/>
<circle cx="396" cy="117.92" r="2.3" fill="#000" stroke="none" stroke-width="0"/>
<circle cx="426.2" cy="50.09" r="2.3" fill="#000" stroke="none" stroke-width="0"/>
<circle cx="456.4" cy="33.96" r="2.3" fill="#000" stroke="none" stroke-width="0"/>
<circle cx="486.6" cy="33.08" r="2.3" fill="#000" stroke="none" stroke-width="0"/>
<circle cx="516.8" cy="39.39" r="2.3" fill="#000" stroke="none" stroke-width="0"/>
<circle cx="547" cy="52.42" r="2.3" fill="#000" stroke="none" stroke-width="0"/>
<circle cx="577.2" cy="70.21" r="2.3" fill="#000" stroke="none" stroke-width="0"/>
<circle cx="607.4" cy="101.45" r="2.3" fill="#000" stroke="none" stroke-width="0"/>
<circle cx="637.6" cy="135.49" r="2.3" fill="#000" stroke="none" stroke-width="0"/>
<circle cx="396" cy="88.42" r="2" fill="#fff" stroke="#000" stroke-width="1.0"/>
<circle cx="426.2" cy="63.88" r="2" fill="#fff" stroke="#000" stroke-width="1.0"/>
<circle cx="456.4" cy="59.78" r="2" fill="#fff" stroke="#000" stroke-width="1.0"/>
<circle cx="486.6" cy="38.85" r="2" fill="#fff" stroke="#000" stroke-width="1.0"/>
<circle cx="516.8" cy="33.11" r="2" fill="#fff" stroke="#000" stroke-width="1.0"/>
<circle cx="547" cy="50.87" r="2" fill="#fff" stroke="#000" stroke-width="1.0"/>
<circle cx="577.2" cy="68.59" r="2" fill="#fff" stroke="#000" stroke-width="1.0"/>
<circle cx="607.4" cy="105.27" r="2" fill="#fff" stroke="#000" stroke-width="1.0"/>
<circle cx="637.6" cy="143.83" r="2" fill="#fff" stroke="#000" stroke-width="1.0"/>
<rect x="393.9" y="120.53" width="4.2" height="4.2" fill="#000"/>
<rect x="424.1" y="69.4" width="4.2" height="4.2" fill="#000"/>
<rect x="454.3" y="37.46" width="4.2" height="4.2" fill="#000"/>
<rect x="484.5" y="31.74" width="4.2" height="4.2" fill="#000"/>
<rect x="514.7" y="33.64" width="4.2" height="4.2" fill="#000"/>
<rect x="544.9" y="46.43" width="4.2" height="4.2" fill="#000"/>
<rect x="575.1" y="69.09" width="4.2" height="4.2" fill="#000"/>
<rect x="605.3" y="98.05" width="4.2" height="4.2" fill="#000"/>
<rect x="635.5" y="131.6" width="4.2" height="4.2" fill="#000"/>
<circle cx="396" cy="96.6" r="2.3" fill="#000" stroke="none" stroke-width="0"/>
<circle cx="426.2" cy="68.4" r="2.3" fill="#000" stroke="none" stroke-width="0"/>
<circle cx="456.4" cy="51.24" r="2.3" fill="#000" stroke="none" stroke-width="0"/>
<circle cx="486.6" cy="35.04" r="2.3" fill="#000" stroke="none" stroke-width="0"/>
<circle cx="516.8" cy="37.07" r="2.3" fill="#000" stroke="none" stroke-width="0"/>
<circle cx="547" cy="53.19" r="2.3" fill="#000" stroke="none" stroke-width="0"/>
<circle cx="577.2" cy="76.23" r="2.3" fill="#000" stroke="none" stroke-width="0"/>
<circle cx="607.4" cy="106.68" r="2.3" fill="#000" stroke="none" stroke-width="0"/>
<circle cx="637.6" cy="136.24" r="2.3" fill="#000" stroke="none" stroke-width="0"/>
<rect x="394.1" y="114.77" width="3.8" height="3.8" fill="#fff" stroke="#000" stroke-width="1"/>
<rect x="424.3" y="60.78" width="3.8" height="3.8" fill="#fff" stroke="#000" stroke-width="1"/>
<rect x="454.5" y="30.59" width="3.8" height="3.8" fill="#fff" stroke="#000" stroke-width="1"/>
<rect x="484.7" y="29.5" width="3.8" height="3.8" fill="#fff" stroke="#000" stroke-width="1"/>
<rect x="514.9" y="35.25" width="3.8" height="3.8" fill="#fff" stroke="#000" stroke-width="1"/>
<rect x="545.1" y="48.17" width="3.8" height="3.8" fill="#fff" stroke="#000" stroke-width="1"/>
<rect x="575.3" y="80.98" width="3.8" height="3.8" fill="#fff" stroke="#000" stroke-width="1"/>
<rect x="605.5" y="114.65" width="3.8" height="3.8" fill="#fff" stroke="#000" stroke-width="1"/>
<rect x="635.7" y="134.12" width="3.8" height="3.8" fill="#fff" stroke="#000" stroke-width="1"/>
<circle cx="396" cy="102.73" r="2.3" fill="#000" stroke="none" stroke-width="0"/>
<circle cx="426.2" cy="86.08" r="2.3" fill="#000" stroke="none" stroke-width="0"/>
<circle cx="456.4" cy="72.59" r="2.3" fill="#000" stroke="none" stroke-width="0"/>
<circle cx="486.6" cy="37.83" r="2.3" fill="#000" stroke="none" stroke-width="0"/>
<circle cx="516.8" cy="33.41" r="2.3" fill="#000" stroke="none" stroke-width="0"/>
<circle cx="547" cy="56.65" r="2.3" fill="#000" stroke="none" stroke-width="0"/>
<circle cx="577.2" cy="90.47" r="2.3" fill="#000" stroke="none" stroke-width="0"/>
<circle cx="607.4" cy="114.02" r="2.3" fill="#000" stroke="none" stroke-width="0"/>
<circle cx="637.6" cy="137.09" r="2.3" fill="#000" stroke="none" stroke-width="0"/>
<rect x="393.9" y="93.45" width="4.2" height="4.2" fill="#000"/>
<rect x="424.1" y="43.43" width="4.2" height="4.2" fill="#000"/>
<rect x="454.3" y="28.56" width="4.2" height="4.2" fill="#000"/>
<rect x="484.5" y="29.02" width="4.2" height="4.2" fill="#000"/>
<rect x="514.7" y="30.43" width="4.2" height="4.2" fill="#000"/>
<rect x="544.9" y="40.35" width="4.2" height="4.2" fill="#000"/>
<rect x="575.1" y="63.54" width="4.2" height="4.2" fill="#000"/>
<rect x="605.3" y="94.68" width="4.2" height="4.2" fill="#000"/>
<rect x="635.5" y="136.72" width="4.2" height="4.2" fill="#000"/>
<polyline points="365.8,169.2 368.85,161.98 371.9,154.99 374.95,148.22 378,141.68 381.05,135.35 384.1,129.24 387.15,123.34 390.2,117.66 393.25,112.18 396.31,106.91 399.36,101.85 402.41,96.99 405.46,92.32 408.51,87.86 411.56,83.58 414.61,79.5 417.66,75.61 420.71,71.91 423.76,68.39 426.81,65.05 429.86,61.9 432.91,58.92 435.96,56.11 439.01,53.48 442.06,51.02 445.11,48.73 448.16,46.6 451.21,44.63 454.26,42.82 457.32,41.18 460.37,39.68 463.42,38.34 466.47,37.15 469.52,36.11 472.57,35.22 475.62,34.47 478.67,33.86 481.72,33.38 484.77,33.05 487.82,32.84 490.87,32.77 493.92,32.83 496.97,33.01 500.02,33.31 503.07,33.74 506.12,34.29 509.17,34.95 512.22,35.72 515.27,36.61 518.33,37.61 521.38,38.71 524.43,39.92 527.48,41.23 530.53,42.64 533.58,44.14 536.63,45.74 539.68,47.43 542.73,49.22 545.78,51.08 548.83,53.04 551.88,55.07 554.93,57.19 557.98,59.38 561.03,61.65 564.08,63.99 567.13,66.4 570.18,68.87 573.23,71.41 576.28,74.02 579.34,76.68 582.39,79.41 585.44,82.19 588.49,85.02 591.54,87.9 594.59,90.83 597.64,93.8 600.69,96.82 603.74,99.88 606.79,102.98 609.84,106.11 612.89,109.28 615.94,112.48 618.99,115.7 622.04,118.95 625.09,122.23 628.14,125.53 631.19,128.84 634.24,132.17 637.29,135.52 640.35,138.88 643.4,142.24 646.45,145.61 649.5,148.99 652.55,152.37 655.6,155.75 658.65,159.12 661.7,162.49 664.75,165.85 667.8,169.2" fill="none" stroke="#ff0000" stroke-width="3.2" stroke-linejoin="round"/>
<line x1="365.8" y1="23" x2="365.8" y2="176.5" stroke="#111" stroke-width="2.6" />
<line x1="358.8" y1="169.2" x2="669.1" y2="169.2" stroke="#111" stroke-width="2.9" />
<rect x="363.2" y="166.6" width="5.2" height="5.2" fill="#000"/>
<rect x="665.2" y="166.6" width="5.2" height="5.2" fill="#000"/>
<line x1="359.3" y1="169.2" x2="365.8" y2="169.2" stroke="#111" stroke-width="2.4" />
<text x="357" y="174.5" text-anchor="end" style="font-family:'Liberation Sans', sans-serif;font-size:15px;" fill="#111" >0.0</text>
<line x1="359.3" y1="99.8" x2="365.8" y2="99.8" stroke="#111" stroke-width="2.4" />
<text x="357" y="105.1" text-anchor="end" style="font-family:'Liberation Sans', sans-serif;font-size:15px;" fill="#111" >0.5</text>
<line x1="359.3" y1="30.4" x2="365.8" y2="30.4" stroke="#111" stroke-width="2.4" />
<text x="357" y="35.7" text-anchor="end" style="font-family:'Liberation Sans', sans-serif;font-size:15px;" fill="#111" >1.0</text>
<line x1="361" y1="134.5" x2="365.8" y2="134.5" stroke="#111" stroke-width="2.4" />
<line x1="361" y1="65.1" x2="365.8" y2="65.1" stroke="#111" stroke-width="2.4" />
<line x1="365.8" y1="169.2" x2="365.8" y2="176.5" stroke="#111" stroke-width="2.4" />
<text x="365.8" y="192.8" text-anchor="middle" style="font-family:'Liberation Sans', sans-serif;font-size:15px;" fill="#111" >0.00</text>
<line x1="441.3" y1="169.2" x2="441.3" y2="176.5" stroke="#111" stroke-width="2.4" />
<text x="441.3" y="192.8" text-anchor="middle" style="font-family:'Liberation Sans', sans-serif;font-size:15px;" fill="#111" >0.25</text>
<line x1="516.8" y1="169.2" x2="516.8" y2="176.5" stroke="#111" stroke-width="2.4" />
<text x="516.8" y="192.8" text-anchor="middle" style="font-family:'Liberation Sans', sans-serif;font-size:15px;" fill="#111" >0.50</text>
<line x1="592.3" y1="169.2" x2="592.3" y2="176.5" stroke="#111" stroke-width="2.4" />
<text x="592.3" y="192.8" text-anchor="middle" style="font-family:'Liberation Sans', sans-serif;font-size:15px;" fill="#111" >0.75</text>
<line x1="667.8" y1="169.2" x2="667.8" y2="176.5" stroke="#111" stroke-width="2.4" />
<text x="667.8" y="192.8" text-anchor="middle" style="font-family:'Liberation Sans', sans-serif;font-size:15px;" fill="#111" >1.00</text>
<line x1="403.55" y1="169.2" x2="403.55" y2="174.4" stroke="#111" stroke-width="2.4" />
<line x1="479.05" y1="169.2" x2="479.05" y2="174.4" stroke="#111" stroke-width="2.4" />
<line x1="554.55" y1="169.2" x2="554.55" y2="174.4" stroke="#111" stroke-width="2.4" />
<line x1="630.05" y1="169.2" x2="630.05" y2="174.4" stroke="#111" stroke-width="2.4" />
<rect x="617.5" y="139.6" width="2.8" height="2.8" fill="#f6b8b8"/>
<text x="381" y="216.7" text-anchor="middle" style="font-family:'Liberation Sans', sans-serif;font-size:14.7px;" fill="#111" >Proximal</text>
<text x="517" y="215.2" text-anchor="middle" style="font-family:'Liberation Sans', sans-serif;font-size:15px;" fill="#111" >Relative length</text>
<text x="666.9" y="216.7" text-anchor="middle" style="font-family:'Liberation Sans', sans-serif;font-size:14.6px;" fill="#111" >Distal</text>
<text transform="translate(328.9,108.2) rotate(-90)" text-anchor="middle" style="font-family:'Liberation Sans', sans-serif;font-size:16px;" fill="#111" >Relative CSA</text>
<text x="575" y="163.8" text-anchor="middle" style="font-family:'Liberation Sans', sans-serif;font-size:16.2px;" fill="#111" ><tspan font-style="italic">R</tspan><tspan baseline-shift="6" font-size="11px">2</tspan> = 0.986</text>
<text x="150" y="277.9" textLength="77" lengthAdjust="spacing" style="font-family:'Liberation Serif', serif;font-size:22.5px;font-style:italic;" fill="#111" stroke="#111" stroke-width="0.2">Volume</text>
<text x="227" y="282.9" textLength="21" lengthAdjust="spacing" style="font-family:'Liberation Serif', serif;font-size:16.5px;font-style:italic;" fill="#111" stroke="#111" stroke-width="0.2">VL</text>
<line x1="258.2" y1="268.6" x2="272.2" y2="268.6" stroke="#111" stroke-width="1.5" />
<line x1="258.2" y1="274.1" x2="272.2" y2="274.1" stroke="#111" stroke-width="1.5" />
<text x="285.6" y="277.9" textLength="55.4" lengthAdjust="spacing" style="font-family:'Liberation Serif', serif;font-size:22.5px;font-style:italic;" fill="#111" stroke="#111" stroke-width="0.2">ACSA</text>
<text x="340.8" y="282.9" textLength="19.2" lengthAdjust="spacing" style="font-family:'Liberation Serif', serif;font-size:16.5px;font-style:italic;" fill="#111" stroke="#111" stroke-width="0.2">VL</text>
<text x="360.6" y="282.9" textLength="35" lengthAdjust="spacing" style="font-family:'Liberation Serif', serif;font-size:17px;" fill="#111" stroke="#111" stroke-width="0.2">50%</text>
<line x1="407.8" y1="267.1" x2="407.8" y2="275.7" stroke="#111" stroke-width="1.35" stroke-linecap="round"/>
<line x1="404.08" y1="269.25" x2="411.52" y2="273.55" stroke="#111" stroke-width="1.35" stroke-linecap="round"/>
<line x1="411.52" y1="269.25" x2="404.08" y2="273.55" stroke="#111" stroke-width="1.35" stroke-linecap="round"/>
<text x="418.8" y="277.9" textLength="73.8" lengthAdjust="spacing" style="font-family:'Liberation Serif', serif;font-size:22.5px;font-style:italic;" fill="#111" stroke="#111" stroke-width="0.2">Length</text>
<text x="492" y="282.9" textLength="21" lengthAdjust="spacing" style="font-family:'Liberation Serif', serif;font-size:16.5px;font-style:italic;" fill="#111" stroke="#111" stroke-width="0.2">VL</text>
<line x1="525.8" y1="267.1" x2="525.8" y2="275.7" stroke="#111" stroke-width="1.35" stroke-linecap="round"/>
<line x1="522.08" y1="269.25" x2="529.52" y2="273.55" stroke="#111" stroke-width="1.35" stroke-linecap="round"/>
<line x1="529.52" y1="269.25" x2="522.08" y2="273.55" stroke="#111" stroke-width="1.35" stroke-linecap="round"/>
<text x="540.8" y="277.9" textLength="13.2" lengthAdjust="spacing" style="font-family:'Liberation Serif', serif;font-size:22.5px;font-style:italic;" fill="#111" stroke="#111" stroke-width="0.2">λ</text>
<text x="0.25" y="323.1" text-anchor="start" style="font-family:'Liberation Sans', sans-serif;font-size:30.5px;" fill="#111" >C</text>
<line x1="101.5" y1="340.7" x2="101.5" y2="441.2" stroke="#111" stroke-width="1.5" />
<line x1="93.9" y1="341.4" x2="101.5" y2="341.4" stroke="#111" stroke-width="1.4" />
<text x="91" y="346.7" text-anchor="end" style="font-family:'Liberation Sans', sans-serif;font-size:15px;" fill="#111" >0.8</text>
<line x1="93.9" y1="366.25" x2="101.5" y2="366.25" stroke="#111" stroke-width="1.4" />
<text x="91" y="371.55" text-anchor="end" style="font-family:'Liberation Sans', sans-serif;font-size:15px;" fill="#111" >0.7</text>
<line x1="93.9" y1="391.1" x2="101.5" y2="391.1" stroke="#111" stroke-width="1.4" />
<text x="91" y="396.4" text-anchor="end" style="font-family:'Liberation Sans', sans-serif;font-size:15px;" fill="#111" >0.6</text>
<line x1="93.9" y1="415.95" x2="101.5" y2="415.95" stroke="#111" stroke-width="1.4" />
<text x="91" y="421.25" text-anchor="end" style="font-family:'Liberation Sans', sans-serif;font-size:15px;" fill="#111" >0.5</text>
<line x1="97.2" y1="441.2" x2="105.7" y2="441.2" stroke="#111" stroke-width="1.4" />
<text x="91" y="446.4" text-anchor="end" style="font-family:'Liberation Sans', sans-serif;font-size:15px;" fill="#111" >0.4</text>
<line x1="101.5" y1="453.8" x2="101.5" y2="492.4" stroke="#111" stroke-width="1.5" />
<line x1="97.2" y1="453.8" x2="105.7" y2="453.8" stroke="#111" stroke-width="1.4" />
<text x="92.7" y="458.9" text-anchor="end" style="font-family:'Liberation Sans', sans-serif;font-size:15px;" fill="#111" >0.4</text>
<line x1="95.2" y1="486.6" x2="101.5" y2="486.6" stroke="#111" stroke-width="1.4" />
<text x="92.7" y="492.1" text-anchor="end" style="font-family:'Liberation Sans', sans-serif;font-size:15px;" fill="#111" >0.0</text>
<line x1="101.5" y1="486.6" x2="319.45" y2="486.6" stroke="#111" stroke-width="1.5" />
<line x1="101.5" y1="486.6" x2="101.5" y2="492.4" stroke="#111" stroke-width="1.4" />
<text x="101.5" y="509.2" text-anchor="middle" style="font-family:'Liberation Sans', sans-serif;font-size:15px;" fill="#111" >0</text>
<line x1="144.95" y1="486.6" x2="144.95" y2="492.4" stroke="#111" stroke-width="1.4" />
<text x="144.95" y="509.2" text-anchor="middle" style="font-family:'Liberation Sans', sans-serif;font-size:15px;" fill="#111" >10</text>
<line x1="188.4" y1="486.6" x2="188.4" y2="492.4" stroke="#111" stroke-width="1.4" />
<text x="188.4" y="509.2" text-anchor="middle" style="font-family:'Liberation Sans', sans-serif;font-size:15px;" fill="#111" >20</text>
<line x1="231.85" y1="486.6" x2="231.85" y2="492.4" stroke="#111" stroke-width="1.4" />
<text x="231.85" y="509.2" text-anchor="middle" style="font-family:'Liberation Sans', sans-serif;font-size:15px;" fill="#111" >30</text>
<line x1="275.3" y1="486.6" x2="275.3" y2="492.4" stroke="#111" stroke-width="1.4" />
<text x="275.3" y="509.2" text-anchor="middle" style="font-family:'Liberation Sans', sans-serif;font-size:15px;" fill="#111" >40</text>
<line x1="318.75" y1="486.6" x2="318.75" y2="492.4" stroke="#111" stroke-width="1.4" />
<text x="318.75" y="509.2" text-anchor="middle" style="font-family:'Liberation Sans', sans-serif;font-size:15px;" fill="#111" >50</text>
<text x="210.3" y="530.8" text-anchor="middle" style="font-family:'Liberation Sans', sans-serif;font-size:15px;" fill="#111" >ACSA<tspan baseline-shift="-3.8" font-size="11px">50%</tspan> (cm<tspan baseline-shift="5.3" font-size="10.5px">2</tspan>)</text>
<text transform="translate(52.4,413.3) rotate(-90)" text-anchor="middle" style="font-family:'Liberation Sans', sans-serif;font-size:15px;" fill="#111" >Muscle Shape Factor</text>
<text x="103.7" y="481.8" text-anchor="start" style="font-family:'Liberation Sans', sans-serif;font-size:17.4px;" fill="#111" >n=34</text>
<polyline points="148.2,383 151.61,383.56 155.01,384.12 158.42,384.67 161.83,385.23 165.24,385.79 168.64,386.35 172.05,386.9 175.46,387.46 178.87,388.02 182.27,388.57 185.68,389.13 189.09,389.69 192.5,390.25 195.91,390.81 199.31,391.36 202.72,391.92 206.13,392.48 209.53,393.04 212.94,393.59 216.35,394.15 219.76,394.71 223.16,395.26 226.57,395.82 229.98,396.38 233.39,396.94 236.79,397.5 240.2,398.05 243.61,398.61 247.02,399.17 250.43,399.73 253.83,400.28 257.24,400.84 260.65,401.4 264.06,401.96 267.46,402.51 270.87,403.07 274.28,403.63 277.69,404.19 281.09,404.74 284.5,405.3" fill="none" stroke="#111" stroke-width="1.9" />
<polyline points="148.2,373.97 151.61,374.88 155.01,375.78 158.42,376.68 161.83,377.58 165.24,378.47 168.64,379.35 172.05,380.22 175.46,381.08 178.87,381.93 182.27,382.77 185.68,383.6 189.09,384.41 192.5,385.2 195.91,385.97 199.31,386.71 202.72,387.43 206.13,388.11 209.53,388.76 212.94,389.38 216.35,389.95 219.76,390.49 223.16,391 226.57,391.46 229.98,391.9 233.39,392.3 236.79,392.67 240.2,393.02 243.61,393.35 247.02,393.66 250.43,393.95 253.83,394.22 257.24,394.49 260.65,394.74 264.06,394.98 267.46,395.22 270.87,395.45 274.28,395.67 277.69,395.89 281.09,396.1 284.5,396.3" fill="none" stroke="#333" stroke-width="1.0" stroke-dasharray="3,2"/>
<polyline points="148.2,392.03 151.61,392.23 155.01,392.45 158.42,392.66 161.83,392.88 165.24,393.11 168.64,393.34 172.05,393.59 175.46,393.84 178.87,394.1 182.27,394.38 185.68,394.67 189.09,394.97 192.5,395.3 195.91,395.64 199.31,396.02 202.72,396.41 206.13,396.84 209.53,397.31 212.94,397.81 216.35,398.35 219.76,398.92 223.16,399.53 226.57,400.18 229.98,400.86 233.39,401.58 236.79,402.32 240.2,403.08 243.61,403.87 247.02,404.68 250.43,405.5 253.83,406.34 257.24,407.19 260.65,408.05 264.06,408.93 267.46,409.81 270.87,410.69 274.28,411.59 277.69,412.48 281.09,413.39 284.5,414.3" fill="none" stroke="#333" stroke-width="1.0" stroke-dasharray="3,2"/>
<circle cx="148.3" cy="384.9" r="3.5" fill="#000" stroke="none" stroke-width="0"/>
<circle cx="150.5" cy="379.4" r="3.5" fill="#000" stroke="none" stroke-width="0"/>
<circle cx="155.8" cy="382" r="3.5" fill="#000" stroke="none" stroke-width="0"/>
<circle cx="156.9" cy="393" r="3.5" fill="#000" stroke="none" stroke-width="0"/>
<circle cx="165.8" cy="408.3" r="3.5" fill="#000" stroke="none" stroke-width="0"/>
<circle cx="167.4" cy="381.6" r="3.5" fill="#000" stroke="none" stroke-width="0"/>
<circle cx="168.9" cy="390.6" r="3.5" fill="#000" stroke="none" stroke-width="0"/>
<circle cx="172.8" cy="380.9" r="3.5" fill="#000" stroke="none" stroke-width="0"/>
<circle cx="183.8" cy="383.1" r="3.5" fill="#000" stroke="none" stroke-width="0"/>
<circle cx="185.3" cy="395.2" r="3.5" fill="#000" stroke="none" stroke-width="0"/>
<circle cx="186.4" cy="370" r="3.5" fill="#000" stroke="none" stroke-width="0"/>
<circle cx="190.8" cy="373.9" r="3.5" fill="#000" stroke="none" stroke-width="0"/>
<circle cx="191.5" cy="384.9" r="3.5" fill="#000" stroke="none" stroke-width="0"/>
<circle cx="192.1" cy="391.9" r="3.5" fill="#000" stroke="none" stroke-width="0"/>
<circle cx="196.9" cy="396.9" r="3.5" fill="#000" stroke="none" stroke-width="0"/>
<circle cx="198.7" cy="390.4" r="3.5" fill="#000" stroke="none" stroke-width="0"/>
<circle cx="216.2" cy="364.5" r="3.5" fill="#000" stroke="none" stroke-width="0"/>
<circle cx="218.8" cy="372" r="3.5" fill="#000" stroke="none" stroke-width="0"/>
<circle cx="219.5" cy="382.3" r="3.5" fill="#000" stroke="none" stroke-width="0"/>
<circle cx="218.4" cy="398.5" r="3.5" fill="#000" stroke="none" stroke-width="0"/>
<circle cx="220.4" cy="404.2" r="3.5" fill="#000" stroke="none" stroke-width="0"/>
<circle cx="227.1" cy="390.8" r="3.5" fill="#000" stroke="none" stroke-width="0"/>
<circle cx="225.4" cy="404.2" r="3.5" fill="#000" stroke="none" stroke-width="0"/>
<circle cx="228.7" cy="409.4" r="3.5" fill="#000" stroke="none" stroke-width="0"/>
<circle cx="232.6" cy="402.4" r="3.5" fill="#000" stroke="none" stroke-width="0"/>
<circle cx="234.6" cy="410.1" r="3.5" fill="#000" stroke="none" stroke-width="0"/>
<circle cx="235.2" cy="394.1" r="3.5" fill="#000" stroke="none" stroke-width="0"/>
<circle cx="240.3" cy="422.5" r="3.5" fill="#000" stroke="none" stroke-width="0"/>
<circle cx="260.9" cy="409.4" r="3.5" fill="#000" stroke="none" stroke-width="0"/>
<circle cx="266.3" cy="403.1" r="3.5" fill="#000" stroke="none" stroke-width="0"/>
<circle cx="277.9" cy="422.5" r="3.5" fill="#000" stroke="none" stroke-width="0"/>
<circle cx="280.4" cy="390.8" r="3.5" fill="#000" stroke="none" stroke-width="0"/>
<circle cx="283.9" cy="378.3" r="3.5" fill="#000" stroke="none" stroke-width="0"/>
<circle cx="284.5" cy="417.7" r="3.5" fill="#000" stroke="none" stroke-width="0"/>
<text x="370.1" y="322.8" text-anchor="start" style="font-family:'Liberation Sans', sans-serif;font-size:30.5px;" fill="#111" >D</text>
<text x="566.3" y="328.6" text-anchor="middle" style="font-family:'Liberation Sans', sans-serif;font-size:17.4px;" fill="#111" >Derivation cohort</text>
<line x1="450.3" y1="346.2" x2="450.3" y2="494.5" stroke="#111" stroke-width="1.5" />
<line x1="444.3" y1="488.5" x2="664.5" y2="488.5" stroke="#111" stroke-width="1.5" />
<line x1="444.3" y1="488.5" x2="450.3" y2="488.5" stroke="#111" stroke-width="1.4" />
<text x="442" y="493.7" text-anchor="end" style="font-family:'Liberation Sans', sans-serif;font-size:15.0px;" fill="#111" >0</text>
<line x1="450.3" y1="488.5" x2="450.3" y2="494.5" stroke="#111" stroke-width="1.4" />
<text x="450.3" y="510.6" text-anchor="middle" style="font-family:'Liberation Sans', sans-serif;font-size:15.0px;" fill="#111" >0</text>
<line x1="444.3" y1="458.7" x2="450.3" y2="458.7" stroke="#111" stroke-width="1.4" />
<text x="442" y="463.9" text-anchor="end" style="font-family:'Liberation Sans', sans-serif;font-size:15.0px;" fill="#111" >250</text>
<line x1="495" y1="488.5" x2="495" y2="494.5" stroke="#111" stroke-width="1.4" />
<text x="495" y="510.6" text-anchor="middle" style="font-family:'Liberation Sans', sans-serif;font-size:15.0px;" fill="#111" >250</text>
<line x1="444.3" y1="428.9" x2="450.3" y2="428.9" stroke="#111" stroke-width="1.4" />
<text x="442" y="434.1" text-anchor="end" style="font-family:'Liberation Sans', sans-serif;font-size:15.0px;" fill="#111" >500</text>
<line x1="539.7" y1="488.5" x2="539.7" y2="494.5" stroke="#111" stroke-width="1.4" />
<text x="539.7" y="510.6" text-anchor="middle" style="font-family:'Liberation Sans', sans-serif;font-size:15.0px;" fill="#111" >500</text>
<line x1="444.3" y1="399.1" x2="450.3" y2="399.1" stroke="#111" stroke-width="1.4" />
<text x="442" y="404.3" text-anchor="end" style="font-family:'Liberation Sans', sans-serif;font-size:15.0px;" fill="#111" >750</text>
<line x1="584.4" y1="488.5" x2="584.4" y2="494.5" stroke="#111" stroke-width="1.4" />
<text x="584.4" y="510.6" text-anchor="middle" style="font-family:'Liberation Sans', sans-serif;font-size:15.0px;" fill="#111" >750</text>
<line x1="444.3" y1="369.3" x2="450.3" y2="369.3" stroke="#111" stroke-width="1.4" />
<text x="442" y="374.5" text-anchor="end" style="font-family:'Liberation Sans', sans-serif;font-size:15.0px;" fill="#111" >1000</text>
<line x1="629.1" y1="488.5" x2="629.1" y2="494.5" stroke="#111" stroke-width="1.4" />
<text x="629.1" y="510.6" text-anchor="middle" style="font-family:'Liberation Sans', sans-serif;font-size:15.0px;" fill="#111" >1000</text>
<line x1="450.3" y1="488.5" x2="664.86" y2="345.46" stroke="#2ee80c" stroke-width="1.8" stroke-dasharray="4.6,2.4"/>
<circle cx="491.1" cy="451.75" r="2.9" fill="#fff" stroke="#111" stroke-width="1.2"/>
<circle cx="497.53" cy="451.75" r="2.9" fill="#fff" stroke="#111" stroke-width="1.2"/>
<circle cx="496.89" cy="459.46" r="2.9" fill="#fff" stroke="#111" stroke-width="1.2"/>
<circle cx="507.16" cy="450.79" r="2.9" fill="#fff" stroke="#111" stroke-width="1.2"/>
<circle cx="509.41" cy="448.54" r="2.9" fill="#fff" stroke="#111" stroke-width="1.2"/>
<circle cx="511.98" cy="442.76" r="2.9" fill="#fff" stroke="#111" stroke-width="1.2"/>
<circle cx="511.98" cy="447.58" r="2.9" fill="#fff" stroke="#111" stroke-width="1.2"/>
<circle cx="517.44" cy="440.19" r="2.9" fill="#fff" stroke="#111" stroke-width="1.2"/>
<circle cx="520.01" cy="445.33" r="2.9" fill="#fff" stroke="#111" stroke-width="1.2"/>
<circle cx="520.01" cy="438.91" r="2.9" fill="#fff" stroke="#111" stroke-width="1.2"/>
<circle cx="532.85" cy="433.77" r="2.9" fill="#fff" stroke="#111" stroke-width="1.2"/>
<circle cx="542.49" cy="419.64" r="2.9" fill="#fff" stroke="#111" stroke-width="1.2"/>
<circle cx="546.34" cy="414.5" r="2.9" fill="#fff" stroke="#111" stroke-width="1.2"/>
<circle cx="547.94" cy="421.25" r="2.9" fill="#fff" stroke="#111" stroke-width="1.2"/>
<circle cx="555.97" cy="407.44" r="2.9" fill="#fff" stroke="#111" stroke-width="1.2"/>
<circle cx="557.58" cy="410.65" r="2.9" fill="#fff" stroke="#111" stroke-width="1.2"/>
<circle cx="561.75" cy="402.62" r="2.9" fill="#fff" stroke="#111" stroke-width="1.2"/>
<circle cx="559.18" cy="407.44" r="2.9" fill="#fff" stroke="#111" stroke-width="1.2"/>
<circle cx="565.61" cy="409.04" r="2.9" fill="#fff" stroke="#111" stroke-width="1.2"/>
<circle cx="567.21" cy="404.23" r="2.9" fill="#fff" stroke="#111" stroke-width="1.2"/>
<circle cx="572.03" cy="406.8" r="2.9" fill="#fff" stroke="#111" stroke-width="1.2"/>
<circle cx="580.38" cy="388.17" r="2.9" fill="#fff" stroke="#111" stroke-width="1.2"/>
<circle cx="581.66" cy="392.99" r="2.9" fill="#fff" stroke="#111" stroke-width="1.2"/>
<circle cx="582.63" cy="397.8" r="2.9" fill="#fff" stroke="#111" stroke-width="1.2"/>
<circle cx="590.01" cy="380.78" r="2.9" fill="#fff" stroke="#111" stroke-width="1.2"/>
<circle cx="592.26" cy="390.74" r="2.9" fill="#fff" stroke="#111" stroke-width="1.2"/>
<circle cx="600.93" cy="374.36" r="2.9" fill="#fff" stroke="#111" stroke-width="1.2"/>
<circle cx="606.71" cy="372.76" r="2.9" fill="#fff" stroke="#111" stroke-width="1.2"/>
<circle cx="615.06" cy="357.02" r="2.9" fill="#fff" stroke="#111" stroke-width="1.2"/>
<polyline points="491.1,456.9 615.4,364.6" fill="none" stroke="#444" stroke-width="0.8" stroke-dasharray="1.2,0.9"/>
<polyline points="491.1,460.6 615.4,369.9" fill="none" stroke="#444" stroke-width="0.8" stroke-dasharray="1.2,0.9"/>
<polyline points="491.1,458.8 615.4,367.3" fill="none" stroke="#111" stroke-width="2.0" />
<text x="625.8" y="460.4" text-anchor="middle" style="font-family:'Liberation Sans', sans-serif;font-size:15.7px;" fill="#111" ><tspan font-style="italic">R</tspan><tspan baseline-shift="5.6" font-size="10.7px">2</tspan>=0.975</text>
<text x="619.8" y="481.9" text-anchor="middle" style="font-family:'Liberation Sans', sans-serif;font-size:15.7px;" fill="#111" >Y = 1.096*X</text>
<text x="557.6" y="530.8" text-anchor="middle" style="font-family:'Liberation Sans', sans-serif;font-size:14.55px;" fill="#111" >Estimated volume</text>
<text x="557.5" y="549.4" text-anchor="middle" style="font-family:'Liberation Sans', sans-serif;font-size:14.55px;" fill="#111" >from 50% ACSA (cm<tspan baseline-shift="5.2" font-size="10px">3</tspan>)</text>
<text transform="translate(384.4,416.8) rotate(-90)" text-anchor="middle" style="font-family:'Liberation Sans', sans-serif;font-size:14.55px;" fill="#111" >Measured volume</text>
<text transform="translate(402.4,416.8) rotate(-90)" text-anchor="middle" style="font-family:'Liberation Sans', sans-serif;font-size:14.55px;" fill="#111" >3D ultrasound (cm<tspan baseline-shift="5.2" font-size="10px">3</tspan>)</text>
<text x="176.6" y="585.9" textLength="12.2" lengthAdjust="spacing" style="font-family:'Liberation Serif', serif;font-size:22.5px;font-style:italic;" fill="#111" stroke="#111" stroke-width="0.2">λ</text>
<line x1="195.9" y1="576.9" x2="209.4" y2="576.9" stroke="#111" stroke-width="1.5" />
<line x1="195.9" y1="582" x2="209.4" y2="582" stroke="#111" stroke-width="1.5" />
<text x="217.3" y="585.9" textLength="64.3" lengthAdjust="spacing" style="font-family:'Liberation Serif', serif;font-size:22px;" fill="#111" stroke="#111" stroke-width="0.2">0.7358</text>
<line x1="293" y1="579.6" x2="306.9" y2="579.6" stroke="#111" stroke-width="1.5" />
<text x="313.6" y="585.9" textLength="87" lengthAdjust="spacing" style="font-family:'Liberation Serif', serif;font-size:22px;" fill="#111" stroke="#111" stroke-width="0.2">0.003316</text>
<line x1="410.5" y1="575" x2="410.5" y2="583.6" stroke="#111" stroke-width="1.35" stroke-linecap="round"/>
<line x1="406.78" y1="577.15" x2="414.22" y2="581.45" stroke="#111" stroke-width="1.35" stroke-linecap="round"/>
<line x1="414.22" y1="577.15" x2="406.78" y2="581.45" stroke="#111" stroke-width="1.35" stroke-linecap="round"/>
<text x="427.2" y="585.9" textLength="50.8" lengthAdjust="spacing" style="font-family:'Liberation Serif', serif;font-size:22.5px;font-style:italic;" fill="#111" stroke="#111" stroke-width="0.2">ACSA</text>
<text x="477.6" y="590.9" textLength="19.4" lengthAdjust="spacing" style="font-family:'Liberation Serif', serif;font-size:16.5px;font-style:italic;" fill="#111" stroke="#111" stroke-width="0.2">VL</text>
<text x="497.4" y="590.9" textLength="32.6" lengthAdjust="spacing" style="font-family:'Liberation Serif', serif;font-size:17px;" fill="#111" stroke="#111" stroke-width="0.2">50%</text>
<text x="-1.05" y="626.9" text-anchor="start" style="font-family:'Liberation Sans', sans-serif;font-size:31px;" fill="#111" >E</text>
<text x="206" y="632.3" text-anchor="middle" style="font-family:'Liberation Sans', sans-serif;font-size:17.4px;" fill="#111" >Slope-corrected derivation cohort</text>
<line x1="103.2" y1="651.4" x2="103.2" y2="797.6" stroke="#111" stroke-width="1.5" />
<line x1="97.2" y1="791.6" x2="315.3" y2="791.6" stroke="#111" stroke-width="1.5" />
<line x1="97.2" y1="791.6" x2="103.2" y2="791.6" stroke="#111" stroke-width="1.4" />
<text x="94.9" y="796.8" text-anchor="end" style="font-family:'Liberation Sans', sans-serif;font-size:14.7px;" fill="#111" >0</text>
<line x1="103.2" y1="791.6" x2="103.2" y2="797.6" stroke="#111" stroke-width="1.4" />
<text x="103.2" y="813.9" text-anchor="middle" style="font-family:'Liberation Sans', sans-serif;font-size:14.7px;" fill="#111" >0</text>
<line x1="97.2" y1="762.2" x2="103.2" y2="762.2" stroke="#111" stroke-width="1.4" />
<text x="94.9" y="767.4" text-anchor="end" style="font-family:'Liberation Sans', sans-serif;font-size:14.7px;" fill="#111" >250</text>
<line x1="147.2" y1="791.6" x2="147.2" y2="797.6" stroke="#111" stroke-width="1.4" />
<text x="147.2" y="813.9" text-anchor="middle" style="font-family:'Liberation Sans', sans-serif;font-size:14.7px;" fill="#111" >250</text>
<line x1="97.2" y1="732.8" x2="103.2" y2="732.8" stroke="#111" stroke-width="1.4" />
<text x="94.9" y="738" text-anchor="end" style="font-family:'Liberation Sans', sans-serif;font-size:14.7px;" fill="#111" >500</text>
<line x1="191.2" y1="791.6" x2="191.2" y2="797.6" stroke="#111" stroke-width="1.4" />
<text x="191.2" y="813.9" text-anchor="middle" style="font-family:'Liberation Sans', sans-serif;font-size:14.7px;" fill="#111" >500</text>
<line x1="97.2" y1="703.4" x2="103.2" y2="703.4" stroke="#111" stroke-width="1.4" />
<text x="94.9" y="708.6" text-anchor="end" style="font-family:'Liberation Sans', sans-serif;font-size:14.7px;" fill="#111" >750</text>
<line x1="235.2" y1="791.6" x2="235.2" y2="797.6" stroke="#111" stroke-width="1.4" />
<text x="235.2" y="813.9" text-anchor="middle" style="font-family:'Liberation Sans', sans-serif;font-size:14.7px;" fill="#111" >750</text>
<line x1="97.2" y1="674" x2="103.2" y2="674" stroke="#111" stroke-width="1.4" />
<text x="94.9" y="679.2" text-anchor="end" style="font-family:'Liberation Sans', sans-serif;font-size:14.7px;" fill="#111" >1000</text>
<line x1="279.2" y1="791.6" x2="279.2" y2="797.6" stroke="#111" stroke-width="1.4" />
<text x="279.2" y="813.9" text-anchor="middle" style="font-family:'Liberation Sans', sans-serif;font-size:14.7px;" fill="#111" >1000</text>
<circle cx="146.1" cy="758.4" r="2.9" fill="#fff" stroke="#111" stroke-width="1.2"/>
<circle cx="155.5" cy="756" r="2.9" fill="#fff" stroke="#111" stroke-width="1.2"/>
<circle cx="157.7" cy="762" r="2.9" fill="#fff" stroke="#111" stroke-width="1.2"/>
<circle cx="157.7" cy="750.4" r="2.9" fill="#fff" stroke="#111" stroke-width="1.2"/>
<circle cx="160" cy="751" r="2.9" fill="#fff" stroke="#111" stroke-width="1.2"/>
<circle cx="163.3" cy="746.8" r="2.9" fill="#fff" stroke="#111" stroke-width="1.2"/>
<circle cx="167.4" cy="742.1" r="2.9" fill="#fff" stroke="#111" stroke-width="1.2"/>
<circle cx="171.6" cy="746.2" r="2.9" fill="#fff" stroke="#111" stroke-width="1.2"/>
<circle cx="175.2" cy="741.2" r="2.9" fill="#fff" stroke="#111" stroke-width="1.2"/>
<circle cx="175.8" cy="743.2" r="2.9" fill="#fff" stroke="#111" stroke-width="1.2"/>
<circle cx="184.1" cy="732.1" r="2.9" fill="#fff" stroke="#111" stroke-width="1.2"/>
<circle cx="202.1" cy="721" r="2.9" fill="#fff" stroke="#111" stroke-width="1.2"/>
<circle cx="204.3" cy="724.6" r="2.9" fill="#fff" stroke="#111" stroke-width="1.2"/>
<circle cx="209.1" cy="720.4" r="2.9" fill="#fff" stroke="#111" stroke-width="1.2"/>
<circle cx="212.7" cy="722.1" r="2.9" fill="#fff" stroke="#111" stroke-width="1.2"/>
<circle cx="218.2" cy="714.3" r="2.9" fill="#fff" stroke="#111" stroke-width="1.2"/>
<circle cx="221" cy="708" r="2.9" fill="#fff" stroke="#111" stroke-width="1.2"/>
<circle cx="223.8" cy="703.2" r="2.9" fill="#fff" stroke="#111" stroke-width="1.2"/>
<circle cx="223.8" cy="713.5" r="2.9" fill="#fff" stroke="#111" stroke-width="1.2"/>
<circle cx="225.7" cy="712.7" r="2.9" fill="#fff" stroke="#111" stroke-width="1.2"/>
<circle cx="227.1" cy="707.1" r="2.9" fill="#fff" stroke="#111" stroke-width="1.2"/>
<circle cx="229.9" cy="710.7" r="2.9" fill="#fff" stroke="#111" stroke-width="1.2"/>
<circle cx="236.8" cy="696" r="2.9" fill="#fff" stroke="#111" stroke-width="1.2"/>
<circle cx="247.9" cy="689.1" r="2.9" fill="#fff" stroke="#111" stroke-width="1.2"/>
<circle cx="248.7" cy="694.9" r="2.9" fill="#fff" stroke="#111" stroke-width="1.2"/>
<circle cx="252.1" cy="697.4" r="2.9" fill="#fff" stroke="#111" stroke-width="1.2"/>
<circle cx="262.6" cy="690.5" r="2.9" fill="#fff" stroke="#111" stroke-width="1.2"/>
<circle cx="271.5" cy="682.4" r="2.9" fill="#fff" stroke="#111" stroke-width="1.2"/>
<circle cx="274.2" cy="677.4" r="2.9" fill="#fff" stroke="#111" stroke-width="1.2"/>
<circle cx="297.3" cy="672.5" r="2.9" fill="#fff" stroke="#111" stroke-width="1.2"/>
<polyline points="146.1,762 298.3,661.8" fill="none" stroke="#111" stroke-width="1.4" />
<polyline points="146.1,759 200,722.8 298.3,658.6" fill="none" stroke="#333" stroke-width="1.0" stroke-dasharray="1.4,1.3"/>
<polyline points="146.1,765 200,727.4 298.3,665.2" fill="none" stroke="#333" stroke-width="1.0" stroke-dasharray="1.4,1.3"/>
<line x1="103.2" y1="791.6" x2="314.4" y2="650.48" stroke="#2ee80c" stroke-width="1.8" stroke-dasharray="4.6,2.4"/>
<text x="312.5" y="786.1" text-anchor="end" style="font-family:'Liberation Sans', sans-serif;font-size:15.5px;" fill="#111" ><tspan font-style="italic">R</tspan><tspan baseline-shift="5.5" font-size="10.5px">2</tspan>=0.975</text>
<text x="209" y="833.7" text-anchor="middle" style="font-family:'Liberation Sans', sans-serif;font-size:14.4px;" fill="#111" >Measured volume</text>
<text x="209" y="851.5" text-anchor="middle" style="font-family:'Liberation Sans', sans-serif;font-size:14.4px;" fill="#111" >3D ultrasound (cm<tspan baseline-shift="5.2" font-size="10px">3</tspan>)</text>
<text transform="translate(37.5,720.5) rotate(-90)" text-anchor="middle" style="font-family:'Liberation Sans', sans-serif;font-size:14.4px;" fill="#111" >Estimated volume</text>
<text transform="translate(55.2,721) rotate(-90)" text-anchor="middle" style="font-family:'Liberation Sans', sans-serif;font-size:14.4px;" fill="#111" >from 50% ACSA (cm<tspan baseline-shift="5.2" font-size="10px">3</tspan>)</text>
<text x="362" y="627.2" text-anchor="start" style="font-family:'Liberation Sans', sans-serif;font-size:31px;" fill="#111" >F</text>
<text x="564.6" y="633.2" text-anchor="middle" style="font-family:'Liberation Sans', sans-serif;font-size:17.4px;" fill="#111" >Validation cohort</text>
<line x1="451.6" y1="651.2" x2="451.6" y2="799.2" stroke="#111" stroke-width="1.5" />
<line x1="445.6" y1="793.2" x2="666" y2="793.2" stroke="#111" stroke-width="1.5" />
<line x1="445.6" y1="793.2" x2="451.6" y2="793.2" stroke="#111" stroke-width="1.4" />
<text x="443.3" y="798.4" text-anchor="end" style="font-family:'Liberation Sans', sans-serif;font-size:14.7px;" fill="#111" >0</text>
<line x1="451.6" y1="793.2" x2="451.6" y2="799.2" stroke="#111" stroke-width="1.4" />
<text x="451.6" y="815.9" text-anchor="middle" style="font-family:'Liberation Sans', sans-serif;font-size:14.7px;" fill="#111" >0</text>
<line x1="445.6" y1="763.5" x2="451.6" y2="763.5" stroke="#111" stroke-width="1.4" />
<text x="443.3" y="768.7" text-anchor="end" style="font-family:'Liberation Sans', sans-serif;font-size:14.7px;" fill="#111" >250</text>
<line x1="496.2" y1="793.2" x2="496.2" y2="799.2" stroke="#111" stroke-width="1.4" />
<text x="496.2" y="815.9" text-anchor="middle" style="font-family:'Liberation Sans', sans-serif;font-size:14.7px;" fill="#111" >250</text>
<line x1="445.6" y1="733.8" x2="451.6" y2="733.8" stroke="#111" stroke-width="1.4" />
<text x="443.3" y="739" text-anchor="end" style="font-family:'Liberation Sans', sans-serif;font-size:14.7px;" fill="#111" >500</text>
<line x1="540.8" y1="793.2" x2="540.8" y2="799.2" stroke="#111" stroke-width="1.4" />
<text x="540.8" y="815.9" text-anchor="middle" style="font-family:'Liberation Sans', sans-serif;font-size:14.7px;" fill="#111" >500</text>
<line x1="445.6" y1="704.1" x2="451.6" y2="704.1" stroke="#111" stroke-width="1.4" />
<text x="443.3" y="709.3" text-anchor="end" style="font-family:'Liberation Sans', sans-serif;font-size:14.7px;" fill="#111" >750</text>
<line x1="585.4" y1="793.2" x2="585.4" y2="799.2" stroke="#111" stroke-width="1.4" />
<text x="585.4" y="815.9" text-anchor="middle" style="font-family:'Liberation Sans', sans-serif;font-size:14.7px;" fill="#111" >750</text>
<line x1="445.6" y1="674.4" x2="451.6" y2="674.4" stroke="#111" stroke-width="1.4" />
<text x="443.3" y="679.6" text-anchor="end" style="font-family:'Liberation Sans', sans-serif;font-size:14.7px;" fill="#111" >1000</text>
<line x1="630" y1="793.2" x2="630" y2="799.2" stroke="#111" stroke-width="1.4" />
<text x="630" y="815.9" text-anchor="middle" style="font-family:'Liberation Sans', sans-serif;font-size:14.7px;" fill="#111" >1000</text>
<circle cx="497.7" cy="761.2" r="2.9" fill="#fff" stroke="#111" stroke-width="1.2"/>
<circle cx="500.7" cy="758.2" r="2.9" fill="#fff" stroke="#111" stroke-width="1.2"/>
<circle cx="506.5" cy="751" r="2.9" fill="#fff" stroke="#111" stroke-width="1.2"/>
<circle cx="510.9" cy="753.3" r="2.9" fill="#fff" stroke="#111" stroke-width="1.2"/>
<circle cx="510.9" cy="749.5" r="2.9" fill="#fff" stroke="#111" stroke-width="1.2"/>
<circle cx="515.3" cy="747.4" r="2.9" fill="#fff" stroke="#111" stroke-width="1.2"/>
<circle cx="516.7" cy="748.6" r="2.9" fill="#fff" stroke="#111" stroke-width="1.2"/>
<circle cx="523.1" cy="742.2" r="2.9" fill="#fff" stroke="#111" stroke-width="1.2"/>
<circle cx="524.9" cy="746.6" r="2.9" fill="#fff" stroke="#111" stroke-width="1.2"/>
<circle cx="531.3" cy="734.9" r="2.9" fill="#fff" stroke="#111" stroke-width="1.2"/>
<circle cx="531.9" cy="737.8" r="2.9" fill="#fff" stroke="#111" stroke-width="1.2"/>
<circle cx="536.6" cy="739.9" r="2.9" fill="#fff" stroke="#111" stroke-width="1.2"/>
<circle cx="539.5" cy="732" r="2.9" fill="#fff" stroke="#111" stroke-width="1.2"/>
<circle cx="544.5" cy="729.9" r="2.9" fill="#fff" stroke="#111" stroke-width="1.2"/>
<circle cx="548.2" cy="716.8" r="2.9" fill="#fff" stroke="#111" stroke-width="1.2"/>
<circle cx="553.2" cy="724.7" r="2.9" fill="#fff" stroke="#111" stroke-width="1.2"/>
<circle cx="560.5" cy="723.2" r="2.9" fill="#fff" stroke="#111" stroke-width="1.2"/>
<circle cx="568.7" cy="704.2" r="2.9" fill="#fff" stroke="#111" stroke-width="1.2"/>
<circle cx="580.4" cy="711.5" r="2.9" fill="#fff" stroke="#111" stroke-width="1.2"/>
<circle cx="582.4" cy="707.7" r="2.9" fill="#fff" stroke="#111" stroke-width="1.2"/>
<circle cx="592.6" cy="701.3" r="2.9" fill="#fff" stroke="#111" stroke-width="1.2"/>
<circle cx="595" cy="701.9" r="2.9" fill="#fff" stroke="#111" stroke-width="1.2"/>
<circle cx="597.9" cy="696.1" r="2.9" fill="#fff" stroke="#111" stroke-width="1.2"/>
<circle cx="602" cy="686.1" r="2.9" fill="#fff" stroke="#111" stroke-width="1.2"/>
<circle cx="602.8" cy="693.1" r="2.9" fill="#fff" stroke="#111" stroke-width="1.2"/>
<circle cx="603.7" cy="699" r="2.9" fill="#fff" stroke="#111" stroke-width="1.2"/>
<circle cx="608.7" cy="706.6" r="2.9" fill="#fff" stroke="#111" stroke-width="1.2"/>
<circle cx="623.3" cy="674.5" r="2.9" fill="#fff" stroke="#111" stroke-width="1.2"/>
<circle cx="628.2" cy="691.1" r="2.9" fill="#fff" stroke="#111" stroke-width="1.2"/>
<circle cx="651" cy="664" r="2.9" fill="#fff" stroke="#111" stroke-width="1.2"/>
<circle cx="660.4" cy="654" r="2.9" fill="#fff" stroke="#111" stroke-width="1.2"/>
<polyline points="497.7,762.2 660.7,656" fill="none" stroke="#111" stroke-width="1.4" />
<polyline points="497.7,759.5 560,719.6 660,652.8" fill="none" stroke="#333" stroke-width="1.0" stroke-dasharray="1.4,1.3"/>
<polyline points="497.7,765.2 560,724.8 660,660.4" fill="none" stroke="#333" stroke-width="1.0" stroke-dasharray="1.4,1.3"/>
<line x1="451.6" y1="793.2" x2="665.68" y2="650.64" stroke="#2ee80c" stroke-width="1.8" stroke-dasharray="4.6,2.4"/>
<text x="476.8" y="669.3" text-anchor="middle" style="font-family:'Liberation Sans', sans-serif;font-size:17.4px;" fill="#111" >n=35</text>
<text x="664.2" y="787.9" text-anchor="end" style="font-family:'Liberation Sans', sans-serif;font-size:15.7px;" fill="#111" ><tspan font-style="italic">R</tspan><tspan baseline-shift="5.6" font-size="10.7px">2</tspan>=0.965</text>
<text x="559" y="836.2" text-anchor="middle" style="font-family:'Liberation Sans', sans-serif;font-size:14.4px;" fill="#111" >Measured volume</text>
<text x="559" y="853" text-anchor="middle" style="font-family:'Liberation Sans', sans-serif;font-size:14.4px;" fill="#111" >3D ultrasound (cm<tspan baseline-shift="5.2" font-size="10px">3</tspan>)</text>
<text transform="translate(385.2,722.2) rotate(-90)" text-anchor="middle" style="font-family:'Liberation Sans', sans-serif;font-size:14.4px;" fill="#111" >Estimated volume</text>
<text transform="translate(403.3,722.2) rotate(-90)" text-anchor="middle" style="font-family:'Liberation Sans', sans-serif;font-size:14.4px;" fill="#111" >from 50% ACSA (cm<tspan baseline-shift="5.2" font-size="10px">3</tspan>)</text>
<text x="-0.85" y="892.2" text-anchor="start" style="font-family:'Liberation Sans', sans-serif;font-size:31px;" fill="#111" >G</text>
<circle cx="213.1" cy="890.5" r="2.7" fill="#1677f2" stroke="none" stroke-width="0"/>
<text x="289.5" y="895.8" text-anchor="middle" style="font-family:'Liberation Sans', sans-serif;font-size:14.7px;" fill="#111" >Derivation cohort</text>
<circle cx="393.6" cy="890.5" r="2.7" fill="#22f27a" stroke="none" stroke-width="0"/>
<text x="468.9" y="895.8" text-anchor="middle" style="font-family:'Liberation Sans', sans-serif;font-size:14.7px;" fill="#111" >Validation cohort</text>
<line x1="191.7" y1="917.4" x2="191.7" y2="1106.1" stroke="#111" stroke-width="1.6" />
<line x1="185.7" y1="1100.1" x2="466.7" y2="1100.1" stroke="#111" stroke-width="1.6" />
<line x1="183.8" y1="918.1" x2="191.7" y2="918.1" stroke="#111" stroke-width="1.6" />
<text x="180.8" y="924.4" text-anchor="end" style="font-family:'Liberation Sans', sans-serif;font-size:18px;" fill="#111" >200</text>
<line x1="183.8" y1="963.6" x2="191.7" y2="963.6" stroke="#111" stroke-width="1.6" />
<text x="180.8" y="969.9" text-anchor="end" style="font-family:'Liberation Sans', sans-serif;font-size:18px;" fill="#111" >100</text>
<line x1="183.8" y1="1009.1" x2="191.7" y2="1009.1" stroke="#111" stroke-width="1.6" />
<text x="180.8" y="1015.4" text-anchor="end" style="font-family:'Liberation Sans', sans-serif;font-size:18px;" fill="#111" >0</text>
<line x1="183.8" y1="1054.6" x2="191.7" y2="1054.6" stroke="#111" stroke-width="1.6" />
<text x="180.8" y="1060.9" text-anchor="end" style="font-family:'Liberation Sans', sans-serif;font-size:18px;" fill="#111" >-100</text>
<line x1="183.8" y1="1100.1" x2="191.7" y2="1100.1" stroke="#111" stroke-width="1.6" />
<text x="180.8" y="1106.4" text-anchor="end" style="font-family:'Liberation Sans', sans-serif;font-size:18px;" fill="#111" >-200</text>
<line x1="191.7" y1="1100.1" x2="191.7" y2="1106.6" stroke="#111" stroke-width="1.5" />
<text x="191.7" y="1127.8" text-anchor="middle" style="font-family:'Liberation Sans', sans-serif;font-size:18px;" fill="#111" >0</text>
<line x1="283.1" y1="1100.1" x2="283.1" y2="1106.6" stroke="#111" stroke-width="1.5" />
<text x="283.1" y="1127.8" text-anchor="middle" style="font-family:'Liberation Sans', sans-serif;font-size:18px;" fill="#111" >500</text>
<line x1="374.5" y1="1100.1" x2="374.5" y2="1106.6" stroke="#111" stroke-width="1.5" />
<text x="374.5" y="1127.8" text-anchor="middle" style="font-family:'Liberation Sans', sans-serif;font-size:18px;" fill="#111" >1000</text>
<line x1="465.9" y1="1100.1" x2="465.9" y2="1106.6" stroke="#111" stroke-width="1.5" />
<text x="465.9" y="1127.8" text-anchor="middle" style="font-family:'Liberation Sans', sans-serif;font-size:18px;" fill="#111" >1500</text>
<line x1="191.7" y1="971.2" x2="465.9" y2="971.2" stroke="#ff0000" stroke-width="1.6" />
<line x1="191.7" y1="1049.9" x2="465.9" y2="1049.9" stroke="#ff0000" stroke-width="1.6" />
<line x1="193.7" y1="1010.7" x2="465.2" y2="1010.7" stroke="#111" stroke-width="1.8" stroke-dasharray="1.8,1.6"/>
<text x="475.6" y="976.7" text-anchor="start" style="font-family:'Liberation Sans', sans-serif;font-size:17.7px;" fill="#111" >+1.96 SD</text>
<text x="474" y="1016" text-anchor="start" style="font-family:'Liberation Sans', sans-serif;font-size:17.7px;" fill="#111" >Mean = -3 cm<tspan baseline-shift="6.5" font-size="12px">3</tspan></text>
<text x="475.6" y="1056.4" text-anchor="start" style="font-family:'Liberation Sans', sans-serif;font-size:17.7px;" fill="#111" >-1.96 SD</text>
<text transform="translate(109.5,1006.5) rotate(-90)" text-anchor="middle" style="font-family:'Liberation Sans', sans-serif;font-size:18.7px;" fill="#111" >Measured vs. estimated</text>
<text transform="translate(130.5,1006.5) rotate(-90)" text-anchor="middle" style="font-family:'Liberation Sans', sans-serif;font-size:18.7px;" fill="#111" >muscle volume (cm<tspan baseline-shift="6.5" font-size="12.5px">3</tspan>)</text>
<text x="339.4" y="1163" text-anchor="middle" style="font-family:'Liberation Sans', sans-serif;font-size:18.7px;" fill="#111" >Mean muscle volume (cm<tspan baseline-shift="6.5" font-size="12.5px">3</tspan>)</text>
<circle cx="242.4" cy="981.4" r="2.65" fill="#1677f2" stroke="none" stroke-width="0"/>
<circle cx="239.9" cy="1014.7" r="2.65" fill="#22f27a" stroke="none" stroke-width="0"/>
<circle cx="247.1" cy="1001.8" r="2.65" fill="#1677f2" stroke="none" stroke-width="0"/>
<circle cx="243.4" cy="1018.3" r="2.65" fill="#22f27a" stroke="none" stroke-width="0"/>
<circle cx="246.8" cy="1012.8" r="2.65" fill="#1677f2" stroke="none" stroke-width="0"/>
<circle cx="252.6" cy="1010" r="2.65" fill="#22f27a" stroke="none" stroke-width="0"/>
<circle cx="239.8" cy="1028.1" r="2.65" fill="#1677f2" stroke="none" stroke-width="0"/>
<circle cx="265.8" cy="1002.3" r="2.65" fill="#22f27a" stroke="none" stroke-width="0"/>
<circle cx="252.6" cy="1022.7" r="2.65" fill="#1677f2" stroke="none" stroke-width="0"/>
<circle cx="263.3" cy="1008.5" r="2.65" fill="#22f27a" stroke="none" stroke-width="0"/>
<circle cx="251.9" cy="1027.5" r="2.65" fill="#1677f2" stroke="none" stroke-width="0"/>
<circle cx="259.5" cy="1017.9" r="2.65" fill="#22f27a" stroke="none" stroke-width="0"/>
<circle cx="257" cy="1028.1" r="2.65" fill="#1677f2" stroke="none" stroke-width="0"/>
<circle cx="260.2" cy="1024.6" r="2.65" fill="#22f27a" stroke="none" stroke-width="0"/>
<circle cx="261.7" cy="1005.9" r="2.65" fill="#1677f2" stroke="none" stroke-width="0"/>
<circle cx="256" cy="1025.2" r="2.65" fill="#22f27a" stroke="none" stroke-width="0"/>
<circle cx="266.5" cy="1010.6" r="2.65" fill="#1677f2" stroke="none" stroke-width="0"/>
<circle cx="252.6" cy="1031" r="2.65" fill="#22f27a" stroke="none" stroke-width="0"/>
<circle cx="268.2" cy="1017.3" r="2.65" fill="#1677f2" stroke="none" stroke-width="0"/>
<circle cx="267.7" cy="1022.3" r="2.65" fill="#22f27a" stroke="none" stroke-width="0"/>
<circle cx="269.1" cy="1019.3" r="2.65" fill="#1677f2" stroke="none" stroke-width="0"/>
<circle cx="276.3" cy="1000.4" r="2.65" fill="#22f27a" stroke="none" stroke-width="0"/>
<circle cx="263.9" cy="1036.3" r="2.65" fill="#1677f2" stroke="none" stroke-width="0"/>
<circle cx="275.7" cy="1020.5" r="2.65" fill="#22f27a" stroke="none" stroke-width="0"/>
<circle cx="280.1" cy="1030.7" r="2.65" fill="#1677f2" stroke="none" stroke-width="0"/>
<circle cx="284" cy="1020.8" r="2.65" fill="#22f27a" stroke="none" stroke-width="0"/>
<circle cx="296.4" cy="1005.5" r="2.65" fill="#1677f2" stroke="none" stroke-width="0"/>
<circle cx="288.4" cy="1015.4" r="2.65" fill="#22f27a" stroke="none" stroke-width="0"/>
<circle cx="302.6" cy="993.8" r="2.65" fill="#1677f2" stroke="none" stroke-width="0"/>
<circle cx="277.9" cy="1030" r="2.65" fill="#22f27a" stroke="none" stroke-width="0"/>
<circle cx="302.3" cy="1011.3" r="2.65" fill="#1677f2" stroke="none" stroke-width="0"/>
<circle cx="296.4" cy="1013.2" r="2.65" fill="#22f27a" stroke="none" stroke-width="0"/>
<circle cx="297.9" cy="1025.2" r="2.65" fill="#1677f2" stroke="none" stroke-width="0"/>
<circle cx="301.2" cy="1001.2" r="2.65" fill="#22f27a" stroke="none" stroke-width="0"/>
<circle cx="314.4" cy="996" r="2.65" fill="#1677f2" stroke="none" stroke-width="0"/>
<circle cx="320.1" cy="993.1" r="2.65" fill="#22f27a" stroke="none" stroke-width="0"/>
<circle cx="312.5" cy="1000.4" r="2.65" fill="#1677f2" stroke="none" stroke-width="0"/>
<circle cx="324.2" cy="1002.7" r="2.65" fill="#22f27a" stroke="none" stroke-width="0"/>
<circle cx="315.4" cy="1002.3" r="2.65" fill="#1677f2" stroke="none" stroke-width="0"/>
<circle cx="300.1" cy="1055.8" r="2.65" fill="#22f27a" stroke="none" stroke-width="0"/>
<circle cx="314.4" cy="1003.7" r="2.65" fill="#1677f2" stroke="none" stroke-width="0"/>
<circle cx="319.8" cy="1051.2" r="2.65" fill="#22f27a" stroke="none" stroke-width="0"/>
<circle cx="311.5" cy="1013.2" r="2.65" fill="#1677f2" stroke="none" stroke-width="0"/>
<circle cx="338.7" cy="941" r="2.65" fill="#22f27a" stroke="none" stroke-width="0"/>
<circle cx="320.5" cy="994.5" r="2.65" fill="#1677f2" stroke="none" stroke-width="0"/>
<circle cx="360.9" cy="949" r="2.65" fill="#22f27a" stroke="none" stroke-width="0"/>
<circle cx="322.7" cy="1015" r="2.65" fill="#1677f2" stroke="none" stroke-width="0"/>
<circle cx="341.6" cy="983.7" r="2.65" fill="#22f27a" stroke="none" stroke-width="0"/>
<circle cx="317.6" cy="1027.8" r="2.65" fill="#1677f2" stroke="none" stroke-width="0"/>
<circle cx="334.6" cy="993.8" r="2.65" fill="#22f27a" stroke="none" stroke-width="0"/>
<circle cx="322.7" cy="1039" r="2.65" fill="#1677f2" stroke="none" stroke-width="0"/>
<circle cx="333.9" cy="999.6" r="2.65" fill="#22f27a" stroke="none" stroke-width="0"/>
<circle cx="385" cy="968.2" r="2.65" fill="#1677f2" stroke="none" stroke-width="0"/>
<circle cx="344.8" cy="1004" r="2.65" fill="#22f27a" stroke="none" stroke-width="0"/>
<circle cx="342.2" cy="989.4" r="2.65" fill="#1677f2" stroke="none" stroke-width="0"/>
<circle cx="341.2" cy="1005.9" r="2.65" fill="#22f27a" stroke="none" stroke-width="0"/>
<circle cx="353.3" cy="988.1" r="2.65" fill="#1677f2" stroke="none" stroke-width="0"/>
<circle cx="392.7" cy="996.1" r="2.65" fill="#22f27a" stroke="none" stroke-width="0"/>
<circle cx="363.8" cy="997.2" r="2.65" fill="#1677f2" stroke="none" stroke-width="0"/>
<circle cx="405.4" cy="1009.6" r="2.65" fill="#22f27a" stroke="none" stroke-width="0"/>
<circle cx="368.6" cy="1005.2" r="2.65" fill="#1677f2" stroke="none" stroke-width="0"/>
<circle cx="370.7" cy="1024.5" r="2.65" fill="#22f27a" stroke="none" stroke-width="0"/>
<circle cx="340.4" cy="1004" r="2.65" fill="#1677f2" stroke="none" stroke-width="0"/>
<circle cx="351" cy="1036.3" r="2.65" fill="#22f27a" stroke="none" stroke-width="0"/>
<circle cx="335.6" cy="1032.5" r="2.65" fill="#1677f2" stroke="none" stroke-width="0"/>
<circle cx="346.3" cy="1032.9" r="2.65" fill="#1677f2" stroke="none" stroke-width="0"/>
</svg>
</body></html>
